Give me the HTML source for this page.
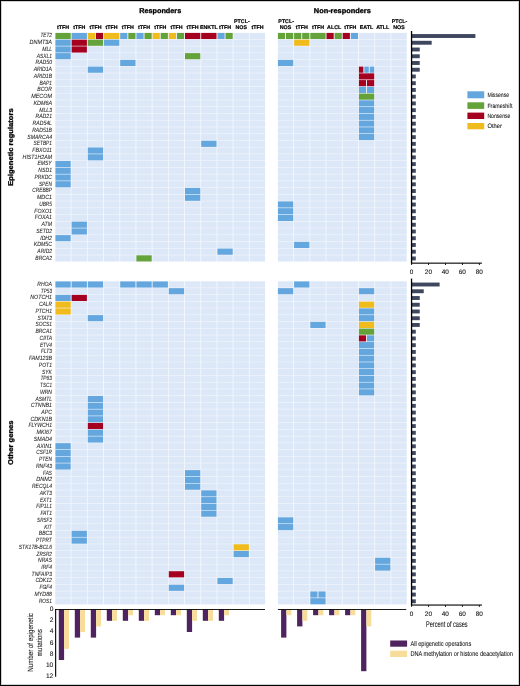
<!DOCTYPE html>
<html><head><meta charset="utf-8"><style>
html,body{margin:0;padding:0;background:#fff;}
body{width:520px;height:686px;overflow:hidden;}
svg{display:block;will-change:transform;}
text{font-family:"Liberation Sans",sans-serif;text-rendering:geometricPrecision;}
.gl{font-size:6.1px;font-style:italic;fill:#222;stroke:#333;stroke-width:0.07px;}
.cl{font-size:5.3px;font-weight:bold;text-anchor:middle;fill:#000;stroke:#000;stroke-width:0.18px;}
.tk{font-size:6.4px;text-anchor:middle;fill:#111;stroke:#222;stroke-width:0.1px;}
.yt{font-size:6.6px;text-anchor:end;fill:#111;stroke:#222;stroke-width:0.1px;}
.ti{font-size:7px;font-weight:bold;fill:#000;stroke:#000;stroke-width:0.3px;}
.lg{font-size:6.3px;fill:#111;stroke:#222;stroke-width:0.08px;}
.lg2{font-size:7px;fill:#111;stroke:#222;stroke-width:0.08px;}
</style></head><body>
<svg width="520" height="686" viewBox="0 0 520 686">
<rect x="0" y="0" width="520" height="686" fill="#fff"/>
<text x="160.2" y="13.0" class="ti" text-anchor="middle" textLength="42" lengthAdjust="spacingAndGlyphs">Responders</text>
<text x="342.3" y="13.0" class="ti" text-anchor="middle" textLength="57" lengthAdjust="spacingAndGlyphs">Non-responders</text>
<text x="63.05" y="29.4" class="cl">tTFH</text>
<text x="79.25" y="29.4" class="cl">tTFH</text>
<text x="95.45" y="29.4" class="cl">tTFH</text>
<text x="111.65" y="29.4" class="cl">tTFH</text>
<text x="127.85" y="29.4" class="cl">tTFH</text>
<text x="144.05" y="29.4" class="cl">tTFH</text>
<text x="160.25" y="29.4" class="cl">tTFH</text>
<text x="176.45" y="29.4" class="cl">tTFH</text>
<text x="192.65" y="29.4" class="cl">tTFH</text>
<text x="208.85" y="29.4" class="cl">ENKTL</text>
<text x="225.05" y="29.4" class="cl">tTFH</text>
<text x="241.85" y="23.0" class="cl">PTCL-</text>
<text x="241.25" y="29.4" class="cl">NOS</text>
<text x="257.45" y="29.4" class="cl">tTFH</text>
<text x="286.15" y="23.0" class="cl">PTCL-</text>
<text x="285.55" y="29.4" class="cl">NOS</text>
<text x="301.75" y="29.4" class="cl">tTFH</text>
<text x="317.95" y="29.4" class="cl">tTFH</text>
<text x="334.15" y="29.4" class="cl">ALCL</text>
<text x="350.35" y="29.4" class="cl">tTFH</text>
<text x="366.55" y="29.4" class="cl">EATL</text>
<text x="382.75" y="29.4" class="cl">ATLL</text>
<text x="399.55" y="23.0" class="cl">PTCL-</text>
<text x="398.95" y="29.4" class="cl">NOS</text>
<text transform="translate(13.1 147.1) rotate(-90)" class="ti" text-anchor="middle" textLength="77.4" lengthAdjust="spacingAndGlyphs">Epigenetic regulators</text>
<text transform="translate(13.1 442.7) rotate(-90)" class="ti" text-anchor="middle" textLength="44.5" lengthAdjust="spacingAndGlyphs">Other genes</text>
<rect x="55.4" y="32.9" width="209.7" height="228.57" fill="#f3f7fd"/>
<rect x="277.9" y="32.9" width="128.7" height="228.57" fill="#f3f7fd"/>
<rect x="55.4" y="281.4" width="209.7" height="322.93" fill="#f3f7fd"/>
<rect x="277.9" y="281.4" width="128.7" height="322.93" fill="#f3f7fd"/>
<rect x="55.4" y="32.9" width="15.3" height="6.15" fill="#64a23a"/>
<rect x="71.6" y="32.9" width="15.3" height="6.15" fill="#64a6de"/>
<rect x="87.8" y="32.9" width="7.2" height="6.15" fill="#f0bb1c"/>
<rect x="95.9" y="32.9" width="7.2" height="6.15" fill="#a5001f"/>
<rect x="104" y="32.9" width="15.3" height="6.15" fill="#f0bb1c"/>
<rect x="120.2" y="32.9" width="7.2" height="6.15" fill="#64a6de"/>
<rect x="128.3" y="32.9" width="7.2" height="6.15" fill="#64a23a"/>
<rect x="136.4" y="32.9" width="7.2" height="6.15" fill="#64a6de"/>
<rect x="144.5" y="32.9" width="7.2" height="6.15" fill="#64a23a"/>
<rect x="152.6" y="32.9" width="7.2" height="6.15" fill="#f0bb1c"/>
<rect x="160.7" y="32.9" width="7.2" height="6.15" fill="#64a23a"/>
<rect x="168.8" y="32.9" width="7.2" height="6.15" fill="#f0bb1c"/>
<rect x="176.9" y="32.9" width="7.2" height="6.15" fill="#64a23a"/>
<rect x="185" y="32.9" width="15.3" height="6.15" fill="#a5001f"/>
<rect x="201.2" y="32.9" width="15.3" height="6.15" fill="#a5001f"/>
<rect x="217.4" y="32.9" width="7.2" height="6.15" fill="#64a6de"/>
<rect x="225.5" y="32.9" width="7.2" height="6.15" fill="#64a23a"/>
<rect x="233.6" y="32.9" width="15.3" height="6.15" fill="#dce7f7"/>
<rect x="249.8" y="32.9" width="15.3" height="6.15" fill="#dce7f7"/>
<rect x="277.9" y="32.9" width="7.2" height="6.15" fill="#64a23a"/>
<rect x="286" y="32.9" width="7.2" height="6.15" fill="#64a23a"/>
<rect x="294.1" y="32.9" width="7.2" height="6.15" fill="#64a23a"/>
<rect x="302.2" y="32.9" width="7.2" height="6.15" fill="#64a23a"/>
<rect x="310.3" y="32.9" width="15.3" height="6.15" fill="#64a23a"/>
<rect x="326.5" y="32.9" width="7.2" height="6.15" fill="#a5001f"/>
<rect x="334.6" y="32.9" width="7.2" height="6.15" fill="#64a23a"/>
<rect x="342.7" y="32.9" width="7.2" height="6.15" fill="#a5001f"/>
<rect x="350.8" y="32.9" width="7.2" height="6.15" fill="#64a6de"/>
<rect x="358.9" y="32.9" width="15.3" height="6.15" fill="#dce7f7"/>
<rect x="375.1" y="32.9" width="15.3" height="6.15" fill="#dce7f7"/>
<rect x="391.3" y="32.9" width="15.3" height="6.15" fill="#dce7f7"/>
<text x="40.4" y="37.42" class="gl" textLength="11.6" lengthAdjust="spacingAndGlyphs">TET2</text>
<rect x="55.4" y="39.64" width="15.3" height="6.15" fill="#64a6de"/>
<rect x="71.6" y="39.64" width="15.3" height="6.15" fill="#a5001f"/>
<rect x="87.8" y="39.64" width="15.3" height="6.15" fill="#64a23a"/>
<rect x="104" y="39.64" width="15.3" height="6.15" fill="#64a6de"/>
<rect x="120.2" y="39.64" width="15.3" height="6.15" fill="#dce7f7"/>
<rect x="136.4" y="39.64" width="15.3" height="6.15" fill="#dce7f7"/>
<rect x="152.6" y="39.64" width="15.3" height="6.15" fill="#dce7f7"/>
<rect x="168.8" y="39.64" width="15.3" height="6.15" fill="#dce7f7"/>
<rect x="185" y="39.64" width="15.3" height="6.15" fill="#dce7f7"/>
<rect x="201.2" y="39.64" width="15.3" height="6.15" fill="#dce7f7"/>
<rect x="217.4" y="39.64" width="15.3" height="6.15" fill="#dce7f7"/>
<rect x="233.6" y="39.64" width="15.3" height="6.15" fill="#dce7f7"/>
<rect x="249.8" y="39.64" width="15.3" height="6.15" fill="#dce7f7"/>
<rect x="277.9" y="39.64" width="15.3" height="6.15" fill="#dce7f7"/>
<rect x="294.1" y="39.64" width="15.3" height="6.15" fill="#f0bb1c"/>
<rect x="310.3" y="39.64" width="15.3" height="6.15" fill="#dce7f7"/>
<rect x="326.5" y="39.64" width="15.3" height="6.15" fill="#dce7f7"/>
<rect x="342.7" y="39.64" width="15.3" height="6.15" fill="#dce7f7"/>
<rect x="358.9" y="39.64" width="15.3" height="6.15" fill="#dce7f7"/>
<rect x="375.1" y="39.64" width="15.3" height="6.15" fill="#dce7f7"/>
<rect x="391.3" y="39.64" width="15.3" height="6.15" fill="#dce7f7"/>
<text x="29.5" y="44.16" class="gl" textLength="22.5" lengthAdjust="spacingAndGlyphs">DNMT3A</text>
<rect x="55.4" y="46.38" width="15.3" height="6.15" fill="#64a6de"/>
<rect x="71.6" y="46.38" width="15.3" height="6.15" fill="#a5001f"/>
<rect x="87.8" y="46.38" width="15.3" height="6.15" fill="#dce7f7"/>
<rect x="104" y="46.38" width="15.3" height="6.15" fill="#dce7f7"/>
<rect x="120.2" y="46.38" width="15.3" height="6.15" fill="#dce7f7"/>
<rect x="136.4" y="46.38" width="15.3" height="6.15" fill="#dce7f7"/>
<rect x="152.6" y="46.38" width="15.3" height="6.15" fill="#dce7f7"/>
<rect x="168.8" y="46.38" width="15.3" height="6.15" fill="#dce7f7"/>
<rect x="185" y="46.38" width="15.3" height="6.15" fill="#dce7f7"/>
<rect x="201.2" y="46.38" width="15.3" height="6.15" fill="#dce7f7"/>
<rect x="217.4" y="46.38" width="15.3" height="6.15" fill="#dce7f7"/>
<rect x="233.6" y="46.38" width="15.3" height="6.15" fill="#dce7f7"/>
<rect x="249.8" y="46.38" width="15.3" height="6.15" fill="#dce7f7"/>
<rect x="277.9" y="46.38" width="15.3" height="6.15" fill="#dce7f7"/>
<rect x="294.1" y="46.38" width="15.3" height="6.15" fill="#dce7f7"/>
<rect x="310.3" y="46.38" width="15.3" height="6.15" fill="#dce7f7"/>
<rect x="326.5" y="46.38" width="15.3" height="6.15" fill="#dce7f7"/>
<rect x="342.7" y="46.38" width="15.3" height="6.15" fill="#dce7f7"/>
<rect x="358.9" y="46.38" width="15.3" height="6.15" fill="#dce7f7"/>
<rect x="375.1" y="46.38" width="15.3" height="6.15" fill="#dce7f7"/>
<rect x="391.3" y="46.38" width="15.3" height="6.15" fill="#dce7f7"/>
<text x="42.2" y="50.9" class="gl" textLength="9.8" lengthAdjust="spacingAndGlyphs">MLL</text>
<rect x="55.4" y="53.12" width="15.3" height="6.15" fill="#64a6de"/>
<rect x="71.6" y="53.12" width="15.3" height="6.15" fill="#dce7f7"/>
<rect x="87.8" y="53.12" width="15.3" height="6.15" fill="#dce7f7"/>
<rect x="104" y="53.12" width="15.3" height="6.15" fill="#dce7f7"/>
<rect x="120.2" y="53.12" width="15.3" height="6.15" fill="#dce7f7"/>
<rect x="136.4" y="53.12" width="15.3" height="6.15" fill="#dce7f7"/>
<rect x="152.6" y="53.12" width="15.3" height="6.15" fill="#dce7f7"/>
<rect x="168.8" y="53.12" width="15.3" height="6.15" fill="#dce7f7"/>
<rect x="185" y="53.12" width="15.3" height="6.15" fill="#64a23a"/>
<rect x="201.2" y="53.12" width="15.3" height="6.15" fill="#dce7f7"/>
<rect x="217.4" y="53.12" width="15.3" height="6.15" fill="#dce7f7"/>
<rect x="233.6" y="53.12" width="15.3" height="6.15" fill="#dce7f7"/>
<rect x="249.8" y="53.12" width="15.3" height="6.15" fill="#dce7f7"/>
<rect x="277.9" y="53.12" width="15.3" height="6.15" fill="#dce7f7"/>
<rect x="294.1" y="53.12" width="15.3" height="6.15" fill="#dce7f7"/>
<rect x="310.3" y="53.12" width="15.3" height="6.15" fill="#dce7f7"/>
<rect x="326.5" y="53.12" width="15.3" height="6.15" fill="#dce7f7"/>
<rect x="342.7" y="53.12" width="15.3" height="6.15" fill="#dce7f7"/>
<rect x="358.9" y="53.12" width="15.3" height="6.15" fill="#dce7f7"/>
<rect x="375.1" y="53.12" width="15.3" height="6.15" fill="#dce7f7"/>
<rect x="391.3" y="53.12" width="15.3" height="6.15" fill="#dce7f7"/>
<text x="36.65" y="57.64" class="gl" textLength="15.35" lengthAdjust="spacingAndGlyphs">ASXL1</text>
<rect x="55.4" y="59.86" width="15.3" height="6.15" fill="#dce7f7"/>
<rect x="71.6" y="59.86" width="15.3" height="6.15" fill="#dce7f7"/>
<rect x="87.8" y="59.86" width="15.3" height="6.15" fill="#dce7f7"/>
<rect x="104" y="59.86" width="15.3" height="6.15" fill="#dce7f7"/>
<rect x="120.2" y="59.86" width="15.3" height="6.15" fill="#64a6de"/>
<rect x="136.4" y="59.86" width="15.3" height="6.15" fill="#dce7f7"/>
<rect x="152.6" y="59.86" width="15.3" height="6.15" fill="#dce7f7"/>
<rect x="168.8" y="59.86" width="15.3" height="6.15" fill="#dce7f7"/>
<rect x="185" y="59.86" width="15.3" height="6.15" fill="#dce7f7"/>
<rect x="201.2" y="59.86" width="15.3" height="6.15" fill="#dce7f7"/>
<rect x="217.4" y="59.86" width="15.3" height="6.15" fill="#dce7f7"/>
<rect x="233.6" y="59.86" width="15.3" height="6.15" fill="#dce7f7"/>
<rect x="249.8" y="59.86" width="15.3" height="6.15" fill="#dce7f7"/>
<rect x="277.9" y="59.86" width="15.3" height="6.15" fill="#64a6de"/>
<rect x="294.1" y="59.86" width="15.3" height="6.15" fill="#dce7f7"/>
<rect x="310.3" y="59.86" width="15.3" height="6.15" fill="#dce7f7"/>
<rect x="326.5" y="59.86" width="15.3" height="6.15" fill="#dce7f7"/>
<rect x="342.7" y="59.86" width="15.3" height="6.15" fill="#dce7f7"/>
<rect x="358.9" y="59.86" width="15.3" height="6.15" fill="#dce7f7"/>
<rect x="375.1" y="59.86" width="15.3" height="6.15" fill="#dce7f7"/>
<rect x="391.3" y="59.86" width="15.3" height="6.15" fill="#dce7f7"/>
<text x="35.5" y="64.38" class="gl" textLength="16.5" lengthAdjust="spacingAndGlyphs">RAD50</text>
<rect x="55.4" y="66.6" width="15.3" height="6.15" fill="#dce7f7"/>
<rect x="71.6" y="66.6" width="15.3" height="6.15" fill="#dce7f7"/>
<rect x="87.8" y="66.6" width="15.3" height="6.15" fill="#64a6de"/>
<rect x="104" y="66.6" width="15.3" height="6.15" fill="#dce7f7"/>
<rect x="120.2" y="66.6" width="15.3" height="6.15" fill="#dce7f7"/>
<rect x="136.4" y="66.6" width="15.3" height="6.15" fill="#dce7f7"/>
<rect x="152.6" y="66.6" width="15.3" height="6.15" fill="#dce7f7"/>
<rect x="168.8" y="66.6" width="15.3" height="6.15" fill="#dce7f7"/>
<rect x="185" y="66.6" width="15.3" height="6.15" fill="#dce7f7"/>
<rect x="201.2" y="66.6" width="15.3" height="6.15" fill="#dce7f7"/>
<rect x="217.4" y="66.6" width="15.3" height="6.15" fill="#dce7f7"/>
<rect x="233.6" y="66.6" width="15.3" height="6.15" fill="#dce7f7"/>
<rect x="249.8" y="66.6" width="15.3" height="6.15" fill="#dce7f7"/>
<rect x="277.9" y="66.6" width="15.3" height="6.15" fill="#dce7f7"/>
<rect x="294.1" y="66.6" width="15.3" height="6.15" fill="#dce7f7"/>
<rect x="310.3" y="66.6" width="15.3" height="6.15" fill="#dce7f7"/>
<rect x="326.5" y="66.6" width="15.3" height="6.15" fill="#dce7f7"/>
<rect x="342.7" y="66.6" width="15.3" height="6.15" fill="#dce7f7"/>
<rect x="358.9" y="66.6" width="4.5" height="6.15" fill="#a5001f"/>
<rect x="364.3" y="66.6" width="4.5" height="6.15" fill="#64a6de"/>
<rect x="369.7" y="66.6" width="4.5" height="6.15" fill="#64a6de"/>
<rect x="375.1" y="66.6" width="15.3" height="6.15" fill="#dce7f7"/>
<rect x="391.3" y="66.6" width="15.3" height="6.15" fill="#dce7f7"/>
<text x="33.65" y="71.12" class="gl" textLength="18.35" lengthAdjust="spacingAndGlyphs">ARID1A</text>
<rect x="55.4" y="73.34" width="15.3" height="6.15" fill="#dce7f7"/>
<rect x="71.6" y="73.34" width="15.3" height="6.15" fill="#dce7f7"/>
<rect x="87.8" y="73.34" width="15.3" height="6.15" fill="#dce7f7"/>
<rect x="104" y="73.34" width="15.3" height="6.15" fill="#dce7f7"/>
<rect x="120.2" y="73.34" width="15.3" height="6.15" fill="#dce7f7"/>
<rect x="136.4" y="73.34" width="15.3" height="6.15" fill="#dce7f7"/>
<rect x="152.6" y="73.34" width="15.3" height="6.15" fill="#dce7f7"/>
<rect x="168.8" y="73.34" width="15.3" height="6.15" fill="#dce7f7"/>
<rect x="185" y="73.34" width="15.3" height="6.15" fill="#dce7f7"/>
<rect x="201.2" y="73.34" width="15.3" height="6.15" fill="#dce7f7"/>
<rect x="217.4" y="73.34" width="15.3" height="6.15" fill="#dce7f7"/>
<rect x="233.6" y="73.34" width="15.3" height="6.15" fill="#dce7f7"/>
<rect x="249.8" y="73.34" width="15.3" height="6.15" fill="#dce7f7"/>
<rect x="277.9" y="73.34" width="15.3" height="6.15" fill="#dce7f7"/>
<rect x="294.1" y="73.34" width="15.3" height="6.15" fill="#dce7f7"/>
<rect x="310.3" y="73.34" width="15.3" height="6.15" fill="#dce7f7"/>
<rect x="326.5" y="73.34" width="15.3" height="6.15" fill="#dce7f7"/>
<rect x="342.7" y="73.34" width="15.3" height="6.15" fill="#dce7f7"/>
<rect x="358.9" y="73.34" width="15.3" height="6.15" fill="#a5001f"/>
<rect x="375.1" y="73.34" width="15.3" height="6.15" fill="#dce7f7"/>
<rect x="391.3" y="73.34" width="15.3" height="6.15" fill="#dce7f7"/>
<text x="33.85" y="77.86" class="gl" textLength="18.15" lengthAdjust="spacingAndGlyphs">ARID1B</text>
<rect x="55.4" y="80.08" width="15.3" height="6.15" fill="#dce7f7"/>
<rect x="71.6" y="80.08" width="15.3" height="6.15" fill="#dce7f7"/>
<rect x="87.8" y="80.08" width="15.3" height="6.15" fill="#dce7f7"/>
<rect x="104" y="80.08" width="15.3" height="6.15" fill="#dce7f7"/>
<rect x="120.2" y="80.08" width="15.3" height="6.15" fill="#dce7f7"/>
<rect x="136.4" y="80.08" width="15.3" height="6.15" fill="#dce7f7"/>
<rect x="152.6" y="80.08" width="15.3" height="6.15" fill="#dce7f7"/>
<rect x="168.8" y="80.08" width="15.3" height="6.15" fill="#dce7f7"/>
<rect x="185" y="80.08" width="15.3" height="6.15" fill="#dce7f7"/>
<rect x="201.2" y="80.08" width="15.3" height="6.15" fill="#dce7f7"/>
<rect x="217.4" y="80.08" width="15.3" height="6.15" fill="#dce7f7"/>
<rect x="233.6" y="80.08" width="15.3" height="6.15" fill="#dce7f7"/>
<rect x="249.8" y="80.08" width="15.3" height="6.15" fill="#dce7f7"/>
<rect x="277.9" y="80.08" width="15.3" height="6.15" fill="#dce7f7"/>
<rect x="294.1" y="80.08" width="15.3" height="6.15" fill="#dce7f7"/>
<rect x="310.3" y="80.08" width="15.3" height="6.15" fill="#dce7f7"/>
<rect x="326.5" y="80.08" width="15.3" height="6.15" fill="#dce7f7"/>
<rect x="342.7" y="80.08" width="15.3" height="6.15" fill="#dce7f7"/>
<rect x="358.9" y="80.08" width="7.2" height="6.15" fill="#a5001f"/>
<rect x="367" y="80.08" width="7.2" height="6.15" fill="#a5001f"/>
<rect x="375.1" y="80.08" width="15.3" height="6.15" fill="#dce7f7"/>
<rect x="391.3" y="80.08" width="15.3" height="6.15" fill="#dce7f7"/>
<text x="39.5" y="84.6" class="gl" textLength="12.5" lengthAdjust="spacingAndGlyphs">BAP1</text>
<rect x="55.4" y="86.82" width="15.3" height="6.15" fill="#dce7f7"/>
<rect x="71.6" y="86.82" width="15.3" height="6.15" fill="#dce7f7"/>
<rect x="87.8" y="86.82" width="15.3" height="6.15" fill="#dce7f7"/>
<rect x="104" y="86.82" width="15.3" height="6.15" fill="#dce7f7"/>
<rect x="120.2" y="86.82" width="15.3" height="6.15" fill="#dce7f7"/>
<rect x="136.4" y="86.82" width="15.3" height="6.15" fill="#dce7f7"/>
<rect x="152.6" y="86.82" width="15.3" height="6.15" fill="#dce7f7"/>
<rect x="168.8" y="86.82" width="15.3" height="6.15" fill="#dce7f7"/>
<rect x="185" y="86.82" width="15.3" height="6.15" fill="#dce7f7"/>
<rect x="201.2" y="86.82" width="15.3" height="6.15" fill="#dce7f7"/>
<rect x="217.4" y="86.82" width="15.3" height="6.15" fill="#dce7f7"/>
<rect x="233.6" y="86.82" width="15.3" height="6.15" fill="#dce7f7"/>
<rect x="249.8" y="86.82" width="15.3" height="6.15" fill="#dce7f7"/>
<rect x="277.9" y="86.82" width="15.3" height="6.15" fill="#dce7f7"/>
<rect x="294.1" y="86.82" width="15.3" height="6.15" fill="#dce7f7"/>
<rect x="310.3" y="86.82" width="15.3" height="6.15" fill="#dce7f7"/>
<rect x="326.5" y="86.82" width="15.3" height="6.15" fill="#dce7f7"/>
<rect x="342.7" y="86.82" width="15.3" height="6.15" fill="#dce7f7"/>
<rect x="358.9" y="86.82" width="7.2" height="6.15" fill="#64a6de"/>
<rect x="367" y="86.82" width="7.2" height="6.15" fill="#64a6de"/>
<rect x="375.1" y="86.82" width="15.3" height="6.15" fill="#dce7f7"/>
<rect x="391.3" y="86.82" width="15.3" height="6.15" fill="#dce7f7"/>
<text x="37.3" y="91.34" class="gl" textLength="14.7" lengthAdjust="spacingAndGlyphs">BCOR</text>
<rect x="55.4" y="93.56" width="15.3" height="6.15" fill="#dce7f7"/>
<rect x="71.6" y="93.56" width="15.3" height="6.15" fill="#dce7f7"/>
<rect x="87.8" y="93.56" width="15.3" height="6.15" fill="#dce7f7"/>
<rect x="104" y="93.56" width="15.3" height="6.15" fill="#dce7f7"/>
<rect x="120.2" y="93.56" width="15.3" height="6.15" fill="#dce7f7"/>
<rect x="136.4" y="93.56" width="15.3" height="6.15" fill="#dce7f7"/>
<rect x="152.6" y="93.56" width="15.3" height="6.15" fill="#dce7f7"/>
<rect x="168.8" y="93.56" width="15.3" height="6.15" fill="#dce7f7"/>
<rect x="185" y="93.56" width="15.3" height="6.15" fill="#dce7f7"/>
<rect x="201.2" y="93.56" width="15.3" height="6.15" fill="#dce7f7"/>
<rect x="217.4" y="93.56" width="15.3" height="6.15" fill="#dce7f7"/>
<rect x="233.6" y="93.56" width="15.3" height="6.15" fill="#dce7f7"/>
<rect x="249.8" y="93.56" width="15.3" height="6.15" fill="#dce7f7"/>
<rect x="277.9" y="93.56" width="15.3" height="6.15" fill="#dce7f7"/>
<rect x="294.1" y="93.56" width="15.3" height="6.15" fill="#dce7f7"/>
<rect x="310.3" y="93.56" width="15.3" height="6.15" fill="#dce7f7"/>
<rect x="326.5" y="93.56" width="15.3" height="6.15" fill="#dce7f7"/>
<rect x="342.7" y="93.56" width="15.3" height="6.15" fill="#dce7f7"/>
<rect x="358.9" y="93.56" width="15.3" height="6.15" fill="#64a23a"/>
<rect x="375.1" y="93.56" width="15.3" height="6.15" fill="#dce7f7"/>
<rect x="391.3" y="93.56" width="15.3" height="6.15" fill="#dce7f7"/>
<text x="31.2" y="98.08" class="gl" textLength="20.79" lengthAdjust="spacingAndGlyphs">MECOM</text>
<rect x="55.4" y="100.3" width="15.3" height="6.15" fill="#dce7f7"/>
<rect x="71.6" y="100.3" width="15.3" height="6.15" fill="#dce7f7"/>
<rect x="87.8" y="100.3" width="15.3" height="6.15" fill="#dce7f7"/>
<rect x="104" y="100.3" width="15.3" height="6.15" fill="#dce7f7"/>
<rect x="120.2" y="100.3" width="15.3" height="6.15" fill="#dce7f7"/>
<rect x="136.4" y="100.3" width="15.3" height="6.15" fill="#dce7f7"/>
<rect x="152.6" y="100.3" width="15.3" height="6.15" fill="#dce7f7"/>
<rect x="168.8" y="100.3" width="15.3" height="6.15" fill="#dce7f7"/>
<rect x="185" y="100.3" width="15.3" height="6.15" fill="#dce7f7"/>
<rect x="201.2" y="100.3" width="15.3" height="6.15" fill="#dce7f7"/>
<rect x="217.4" y="100.3" width="15.3" height="6.15" fill="#dce7f7"/>
<rect x="233.6" y="100.3" width="15.3" height="6.15" fill="#dce7f7"/>
<rect x="249.8" y="100.3" width="15.3" height="6.15" fill="#dce7f7"/>
<rect x="277.9" y="100.3" width="15.3" height="6.15" fill="#dce7f7"/>
<rect x="294.1" y="100.3" width="15.3" height="6.15" fill="#dce7f7"/>
<rect x="310.3" y="100.3" width="15.3" height="6.15" fill="#dce7f7"/>
<rect x="326.5" y="100.3" width="15.3" height="6.15" fill="#dce7f7"/>
<rect x="342.7" y="100.3" width="15.3" height="6.15" fill="#dce7f7"/>
<rect x="358.9" y="100.3" width="15.3" height="6.15" fill="#64a6de"/>
<rect x="375.1" y="100.3" width="15.3" height="6.15" fill="#dce7f7"/>
<rect x="391.3" y="100.3" width="15.3" height="6.15" fill="#dce7f7"/>
<text x="33.4" y="104.82" class="gl" textLength="18.6" lengthAdjust="spacingAndGlyphs">KDM6A</text>
<rect x="55.4" y="107.04" width="15.3" height="6.15" fill="#dce7f7"/>
<rect x="71.6" y="107.04" width="15.3" height="6.15" fill="#dce7f7"/>
<rect x="87.8" y="107.04" width="15.3" height="6.15" fill="#dce7f7"/>
<rect x="104" y="107.04" width="15.3" height="6.15" fill="#dce7f7"/>
<rect x="120.2" y="107.04" width="15.3" height="6.15" fill="#dce7f7"/>
<rect x="136.4" y="107.04" width="15.3" height="6.15" fill="#dce7f7"/>
<rect x="152.6" y="107.04" width="15.3" height="6.15" fill="#dce7f7"/>
<rect x="168.8" y="107.04" width="15.3" height="6.15" fill="#dce7f7"/>
<rect x="185" y="107.04" width="15.3" height="6.15" fill="#dce7f7"/>
<rect x="201.2" y="107.04" width="15.3" height="6.15" fill="#dce7f7"/>
<rect x="217.4" y="107.04" width="15.3" height="6.15" fill="#dce7f7"/>
<rect x="233.6" y="107.04" width="15.3" height="6.15" fill="#dce7f7"/>
<rect x="249.8" y="107.04" width="15.3" height="6.15" fill="#dce7f7"/>
<rect x="277.9" y="107.04" width="15.3" height="6.15" fill="#dce7f7"/>
<rect x="294.1" y="107.04" width="15.3" height="6.15" fill="#dce7f7"/>
<rect x="310.3" y="107.04" width="15.3" height="6.15" fill="#dce7f7"/>
<rect x="326.5" y="107.04" width="15.3" height="6.15" fill="#dce7f7"/>
<rect x="342.7" y="107.04" width="15.3" height="6.15" fill="#dce7f7"/>
<rect x="358.9" y="107.04" width="15.3" height="6.15" fill="#64a6de"/>
<rect x="375.1" y="107.04" width="15.3" height="6.15" fill="#dce7f7"/>
<rect x="391.3" y="107.04" width="15.3" height="6.15" fill="#dce7f7"/>
<text x="39.3" y="111.56" class="gl" textLength="12.7" lengthAdjust="spacingAndGlyphs">MLL3</text>
<rect x="55.4" y="113.78" width="15.3" height="6.15" fill="#dce7f7"/>
<rect x="71.6" y="113.78" width="15.3" height="6.15" fill="#dce7f7"/>
<rect x="87.8" y="113.78" width="15.3" height="6.15" fill="#dce7f7"/>
<rect x="104" y="113.78" width="15.3" height="6.15" fill="#dce7f7"/>
<rect x="120.2" y="113.78" width="15.3" height="6.15" fill="#dce7f7"/>
<rect x="136.4" y="113.78" width="15.3" height="6.15" fill="#dce7f7"/>
<rect x="152.6" y="113.78" width="15.3" height="6.15" fill="#dce7f7"/>
<rect x="168.8" y="113.78" width="15.3" height="6.15" fill="#dce7f7"/>
<rect x="185" y="113.78" width="15.3" height="6.15" fill="#dce7f7"/>
<rect x="201.2" y="113.78" width="15.3" height="6.15" fill="#dce7f7"/>
<rect x="217.4" y="113.78" width="15.3" height="6.15" fill="#dce7f7"/>
<rect x="233.6" y="113.78" width="15.3" height="6.15" fill="#dce7f7"/>
<rect x="249.8" y="113.78" width="15.3" height="6.15" fill="#dce7f7"/>
<rect x="277.9" y="113.78" width="15.3" height="6.15" fill="#dce7f7"/>
<rect x="294.1" y="113.78" width="15.3" height="6.15" fill="#dce7f7"/>
<rect x="310.3" y="113.78" width="15.3" height="6.15" fill="#dce7f7"/>
<rect x="326.5" y="113.78" width="15.3" height="6.15" fill="#dce7f7"/>
<rect x="342.7" y="113.78" width="15.3" height="6.15" fill="#dce7f7"/>
<rect x="358.9" y="113.78" width="15.3" height="6.15" fill="#64a6de"/>
<rect x="375.1" y="113.78" width="15.3" height="6.15" fill="#dce7f7"/>
<rect x="391.3" y="113.78" width="15.3" height="6.15" fill="#dce7f7"/>
<text x="35.5" y="118.3" class="gl" textLength="16.5" lengthAdjust="spacingAndGlyphs">RAD21</text>
<rect x="55.4" y="120.52" width="15.3" height="6.15" fill="#dce7f7"/>
<rect x="71.6" y="120.52" width="15.3" height="6.15" fill="#dce7f7"/>
<rect x="87.8" y="120.52" width="15.3" height="6.15" fill="#dce7f7"/>
<rect x="104" y="120.52" width="15.3" height="6.15" fill="#dce7f7"/>
<rect x="120.2" y="120.52" width="15.3" height="6.15" fill="#dce7f7"/>
<rect x="136.4" y="120.52" width="15.3" height="6.15" fill="#dce7f7"/>
<rect x="152.6" y="120.52" width="15.3" height="6.15" fill="#dce7f7"/>
<rect x="168.8" y="120.52" width="15.3" height="6.15" fill="#dce7f7"/>
<rect x="185" y="120.52" width="15.3" height="6.15" fill="#dce7f7"/>
<rect x="201.2" y="120.52" width="15.3" height="6.15" fill="#dce7f7"/>
<rect x="217.4" y="120.52" width="15.3" height="6.15" fill="#dce7f7"/>
<rect x="233.6" y="120.52" width="15.3" height="6.15" fill="#dce7f7"/>
<rect x="249.8" y="120.52" width="15.3" height="6.15" fill="#dce7f7"/>
<rect x="277.9" y="120.52" width="15.3" height="6.15" fill="#dce7f7"/>
<rect x="294.1" y="120.52" width="15.3" height="6.15" fill="#dce7f7"/>
<rect x="310.3" y="120.52" width="15.3" height="6.15" fill="#dce7f7"/>
<rect x="326.5" y="120.52" width="15.3" height="6.15" fill="#dce7f7"/>
<rect x="342.7" y="120.52" width="15.3" height="6.15" fill="#dce7f7"/>
<rect x="358.9" y="120.52" width="15.3" height="6.15" fill="#64a6de"/>
<rect x="375.1" y="120.52" width="15.3" height="6.15" fill="#dce7f7"/>
<rect x="391.3" y="120.52" width="15.3" height="6.15" fill="#dce7f7"/>
<text x="32.5" y="125.04" class="gl" textLength="19.5" lengthAdjust="spacingAndGlyphs">RAD54L</text>
<rect x="55.4" y="127.26" width="15.3" height="6.15" fill="#dce7f7"/>
<rect x="71.6" y="127.26" width="15.3" height="6.15" fill="#dce7f7"/>
<rect x="87.8" y="127.26" width="15.3" height="6.15" fill="#dce7f7"/>
<rect x="104" y="127.26" width="15.3" height="6.15" fill="#dce7f7"/>
<rect x="120.2" y="127.26" width="15.3" height="6.15" fill="#dce7f7"/>
<rect x="136.4" y="127.26" width="15.3" height="6.15" fill="#dce7f7"/>
<rect x="152.6" y="127.26" width="15.3" height="6.15" fill="#dce7f7"/>
<rect x="168.8" y="127.26" width="15.3" height="6.15" fill="#dce7f7"/>
<rect x="185" y="127.26" width="15.3" height="6.15" fill="#dce7f7"/>
<rect x="201.2" y="127.26" width="15.3" height="6.15" fill="#dce7f7"/>
<rect x="217.4" y="127.26" width="15.3" height="6.15" fill="#dce7f7"/>
<rect x="233.6" y="127.26" width="15.3" height="6.15" fill="#dce7f7"/>
<rect x="249.8" y="127.26" width="15.3" height="6.15" fill="#dce7f7"/>
<rect x="277.9" y="127.26" width="15.3" height="6.15" fill="#dce7f7"/>
<rect x="294.1" y="127.26" width="15.3" height="6.15" fill="#dce7f7"/>
<rect x="310.3" y="127.26" width="15.3" height="6.15" fill="#dce7f7"/>
<rect x="326.5" y="127.26" width="15.3" height="6.15" fill="#dce7f7"/>
<rect x="342.7" y="127.26" width="15.3" height="6.15" fill="#dce7f7"/>
<rect x="358.9" y="127.26" width="15.3" height="6.15" fill="#64a6de"/>
<rect x="375.1" y="127.26" width="15.3" height="6.15" fill="#dce7f7"/>
<rect x="391.3" y="127.26" width="15.3" height="6.15" fill="#dce7f7"/>
<text x="32.2" y="131.78" class="gl" textLength="19.8" lengthAdjust="spacingAndGlyphs">RAD51B</text>
<rect x="55.4" y="134" width="15.3" height="6.15" fill="#dce7f7"/>
<rect x="71.6" y="134" width="15.3" height="6.15" fill="#dce7f7"/>
<rect x="87.8" y="134" width="15.3" height="6.15" fill="#dce7f7"/>
<rect x="104" y="134" width="15.3" height="6.15" fill="#dce7f7"/>
<rect x="120.2" y="134" width="15.3" height="6.15" fill="#dce7f7"/>
<rect x="136.4" y="134" width="15.3" height="6.15" fill="#dce7f7"/>
<rect x="152.6" y="134" width="15.3" height="6.15" fill="#dce7f7"/>
<rect x="168.8" y="134" width="15.3" height="6.15" fill="#dce7f7"/>
<rect x="185" y="134" width="15.3" height="6.15" fill="#dce7f7"/>
<rect x="201.2" y="134" width="15.3" height="6.15" fill="#dce7f7"/>
<rect x="217.4" y="134" width="15.3" height="6.15" fill="#dce7f7"/>
<rect x="233.6" y="134" width="15.3" height="6.15" fill="#dce7f7"/>
<rect x="249.8" y="134" width="15.3" height="6.15" fill="#dce7f7"/>
<rect x="277.9" y="134" width="15.3" height="6.15" fill="#dce7f7"/>
<rect x="294.1" y="134" width="15.3" height="6.15" fill="#dce7f7"/>
<rect x="310.3" y="134" width="15.3" height="6.15" fill="#dce7f7"/>
<rect x="326.5" y="134" width="15.3" height="6.15" fill="#dce7f7"/>
<rect x="342.7" y="134" width="15.3" height="6.15" fill="#dce7f7"/>
<rect x="358.9" y="134" width="15.3" height="6.15" fill="#64a6de"/>
<rect x="375.1" y="134" width="15.3" height="6.15" fill="#dce7f7"/>
<rect x="391.3" y="134" width="15.3" height="6.15" fill="#dce7f7"/>
<text x="27.3" y="138.52" class="gl" textLength="24.7" lengthAdjust="spacingAndGlyphs">SMARCA4</text>
<rect x="55.4" y="140.74" width="15.3" height="6.15" fill="#dce7f7"/>
<rect x="71.6" y="140.74" width="15.3" height="6.15" fill="#dce7f7"/>
<rect x="87.8" y="140.74" width="15.3" height="6.15" fill="#dce7f7"/>
<rect x="104" y="140.74" width="15.3" height="6.15" fill="#dce7f7"/>
<rect x="120.2" y="140.74" width="15.3" height="6.15" fill="#dce7f7"/>
<rect x="136.4" y="140.74" width="15.3" height="6.15" fill="#dce7f7"/>
<rect x="152.6" y="140.74" width="15.3" height="6.15" fill="#dce7f7"/>
<rect x="168.8" y="140.74" width="15.3" height="6.15" fill="#dce7f7"/>
<rect x="185" y="140.74" width="15.3" height="6.15" fill="#dce7f7"/>
<rect x="201.2" y="140.74" width="15.3" height="6.15" fill="#64a6de"/>
<rect x="217.4" y="140.74" width="15.3" height="6.15" fill="#dce7f7"/>
<rect x="233.6" y="140.74" width="15.3" height="6.15" fill="#dce7f7"/>
<rect x="249.8" y="140.74" width="15.3" height="6.15" fill="#dce7f7"/>
<rect x="277.9" y="140.74" width="15.3" height="6.15" fill="#dce7f7"/>
<rect x="294.1" y="140.74" width="15.3" height="6.15" fill="#dce7f7"/>
<rect x="310.3" y="140.74" width="15.3" height="6.15" fill="#dce7f7"/>
<rect x="326.5" y="140.74" width="15.3" height="6.15" fill="#dce7f7"/>
<rect x="342.7" y="140.74" width="15.3" height="6.15" fill="#dce7f7"/>
<rect x="358.9" y="140.74" width="15.3" height="6.15" fill="#dce7f7"/>
<rect x="375.1" y="140.74" width="15.3" height="6.15" fill="#dce7f7"/>
<rect x="391.3" y="140.74" width="15.3" height="6.15" fill="#dce7f7"/>
<text x="33.6" y="145.26" class="gl" textLength="18.4" lengthAdjust="spacingAndGlyphs">SETBP1</text>
<rect x="55.4" y="147.48" width="15.3" height="6.15" fill="#dce7f7"/>
<rect x="71.6" y="147.48" width="15.3" height="6.15" fill="#dce7f7"/>
<rect x="87.8" y="147.48" width="15.3" height="6.15" fill="#64a6de"/>
<rect x="104" y="147.48" width="15.3" height="6.15" fill="#dce7f7"/>
<rect x="120.2" y="147.48" width="15.3" height="6.15" fill="#dce7f7"/>
<rect x="136.4" y="147.48" width="15.3" height="6.15" fill="#dce7f7"/>
<rect x="152.6" y="147.48" width="15.3" height="6.15" fill="#dce7f7"/>
<rect x="168.8" y="147.48" width="15.3" height="6.15" fill="#dce7f7"/>
<rect x="185" y="147.48" width="15.3" height="6.15" fill="#dce7f7"/>
<rect x="201.2" y="147.48" width="15.3" height="6.15" fill="#dce7f7"/>
<rect x="217.4" y="147.48" width="15.3" height="6.15" fill="#dce7f7"/>
<rect x="233.6" y="147.48" width="15.3" height="6.15" fill="#dce7f7"/>
<rect x="249.8" y="147.48" width="15.3" height="6.15" fill="#dce7f7"/>
<rect x="277.9" y="147.48" width="15.3" height="6.15" fill="#dce7f7"/>
<rect x="294.1" y="147.48" width="15.3" height="6.15" fill="#dce7f7"/>
<rect x="310.3" y="147.48" width="15.3" height="6.15" fill="#dce7f7"/>
<rect x="326.5" y="147.48" width="15.3" height="6.15" fill="#dce7f7"/>
<rect x="342.7" y="147.48" width="15.3" height="6.15" fill="#dce7f7"/>
<rect x="358.9" y="147.48" width="15.3" height="6.15" fill="#dce7f7"/>
<rect x="375.1" y="147.48" width="15.3" height="6.15" fill="#dce7f7"/>
<rect x="391.3" y="147.48" width="15.3" height="6.15" fill="#dce7f7"/>
<text x="32.3" y="152" class="gl" textLength="19.7" lengthAdjust="spacingAndGlyphs">FBXO11</text>
<rect x="55.4" y="154.22" width="15.3" height="6.15" fill="#dce7f7"/>
<rect x="71.6" y="154.22" width="15.3" height="6.15" fill="#dce7f7"/>
<rect x="87.8" y="154.22" width="15.3" height="6.15" fill="#64a6de"/>
<rect x="104" y="154.22" width="15.3" height="6.15" fill="#dce7f7"/>
<rect x="120.2" y="154.22" width="15.3" height="6.15" fill="#dce7f7"/>
<rect x="136.4" y="154.22" width="15.3" height="6.15" fill="#dce7f7"/>
<rect x="152.6" y="154.22" width="15.3" height="6.15" fill="#dce7f7"/>
<rect x="168.8" y="154.22" width="15.3" height="6.15" fill="#dce7f7"/>
<rect x="185" y="154.22" width="15.3" height="6.15" fill="#dce7f7"/>
<rect x="201.2" y="154.22" width="15.3" height="6.15" fill="#dce7f7"/>
<rect x="217.4" y="154.22" width="15.3" height="6.15" fill="#dce7f7"/>
<rect x="233.6" y="154.22" width="15.3" height="6.15" fill="#dce7f7"/>
<rect x="249.8" y="154.22" width="15.3" height="6.15" fill="#dce7f7"/>
<rect x="277.9" y="154.22" width="15.3" height="6.15" fill="#dce7f7"/>
<rect x="294.1" y="154.22" width="15.3" height="6.15" fill="#dce7f7"/>
<rect x="310.3" y="154.22" width="15.3" height="6.15" fill="#dce7f7"/>
<rect x="326.5" y="154.22" width="15.3" height="6.15" fill="#dce7f7"/>
<rect x="342.7" y="154.22" width="15.3" height="6.15" fill="#dce7f7"/>
<rect x="358.9" y="154.22" width="15.3" height="6.15" fill="#dce7f7"/>
<rect x="375.1" y="154.22" width="15.3" height="6.15" fill="#dce7f7"/>
<rect x="391.3" y="154.22" width="15.3" height="6.15" fill="#dce7f7"/>
<text x="22.6" y="158.74" class="gl" textLength="29.4" lengthAdjust="spacingAndGlyphs">HIST1H2AM</text>
<rect x="55.4" y="160.96" width="15.3" height="6.15" fill="#64a6de"/>
<rect x="71.6" y="160.96" width="15.3" height="6.15" fill="#dce7f7"/>
<rect x="87.8" y="160.96" width="15.3" height="6.15" fill="#dce7f7"/>
<rect x="104" y="160.96" width="15.3" height="6.15" fill="#dce7f7"/>
<rect x="120.2" y="160.96" width="15.3" height="6.15" fill="#dce7f7"/>
<rect x="136.4" y="160.96" width="15.3" height="6.15" fill="#dce7f7"/>
<rect x="152.6" y="160.96" width="15.3" height="6.15" fill="#dce7f7"/>
<rect x="168.8" y="160.96" width="15.3" height="6.15" fill="#dce7f7"/>
<rect x="185" y="160.96" width="15.3" height="6.15" fill="#dce7f7"/>
<rect x="201.2" y="160.96" width="15.3" height="6.15" fill="#dce7f7"/>
<rect x="217.4" y="160.96" width="15.3" height="6.15" fill="#dce7f7"/>
<rect x="233.6" y="160.96" width="15.3" height="6.15" fill="#dce7f7"/>
<rect x="249.8" y="160.96" width="15.3" height="6.15" fill="#dce7f7"/>
<rect x="277.9" y="160.96" width="15.3" height="6.15" fill="#dce7f7"/>
<rect x="294.1" y="160.96" width="15.3" height="6.15" fill="#dce7f7"/>
<rect x="310.3" y="160.96" width="15.3" height="6.15" fill="#dce7f7"/>
<rect x="326.5" y="160.96" width="15.3" height="6.15" fill="#dce7f7"/>
<rect x="342.7" y="160.96" width="15.3" height="6.15" fill="#dce7f7"/>
<rect x="358.9" y="160.96" width="15.3" height="6.15" fill="#dce7f7"/>
<rect x="375.1" y="160.96" width="15.3" height="6.15" fill="#dce7f7"/>
<rect x="391.3" y="160.96" width="15.3" height="6.15" fill="#dce7f7"/>
<text x="37.4" y="165.48" class="gl" textLength="14.29" lengthAdjust="spacingAndGlyphs">EMSY</text>
<rect x="55.4" y="167.7" width="15.3" height="6.15" fill="#64a6de"/>
<rect x="71.6" y="167.7" width="15.3" height="6.15" fill="#dce7f7"/>
<rect x="87.8" y="167.7" width="15.3" height="6.15" fill="#dce7f7"/>
<rect x="104" y="167.7" width="15.3" height="6.15" fill="#dce7f7"/>
<rect x="120.2" y="167.7" width="15.3" height="6.15" fill="#dce7f7"/>
<rect x="136.4" y="167.7" width="15.3" height="6.15" fill="#dce7f7"/>
<rect x="152.6" y="167.7" width="15.3" height="6.15" fill="#dce7f7"/>
<rect x="168.8" y="167.7" width="15.3" height="6.15" fill="#dce7f7"/>
<rect x="185" y="167.7" width="15.3" height="6.15" fill="#dce7f7"/>
<rect x="201.2" y="167.7" width="15.3" height="6.15" fill="#dce7f7"/>
<rect x="217.4" y="167.7" width="15.3" height="6.15" fill="#dce7f7"/>
<rect x="233.6" y="167.7" width="15.3" height="6.15" fill="#dce7f7"/>
<rect x="249.8" y="167.7" width="15.3" height="6.15" fill="#dce7f7"/>
<rect x="277.9" y="167.7" width="15.3" height="6.15" fill="#dce7f7"/>
<rect x="294.1" y="167.7" width="15.3" height="6.15" fill="#dce7f7"/>
<rect x="310.3" y="167.7" width="15.3" height="6.15" fill="#dce7f7"/>
<rect x="326.5" y="167.7" width="15.3" height="6.15" fill="#dce7f7"/>
<rect x="342.7" y="167.7" width="15.3" height="6.15" fill="#dce7f7"/>
<rect x="358.9" y="167.7" width="15.3" height="6.15" fill="#dce7f7"/>
<rect x="375.1" y="167.7" width="15.3" height="6.15" fill="#dce7f7"/>
<rect x="391.3" y="167.7" width="15.3" height="6.15" fill="#dce7f7"/>
<text x="38.3" y="172.22" class="gl" textLength="13.7" lengthAdjust="spacingAndGlyphs">NSD1</text>
<rect x="55.4" y="174.44" width="15.3" height="6.15" fill="#64a6de"/>
<rect x="71.6" y="174.44" width="15.3" height="6.15" fill="#dce7f7"/>
<rect x="87.8" y="174.44" width="15.3" height="6.15" fill="#dce7f7"/>
<rect x="104" y="174.44" width="15.3" height="6.15" fill="#dce7f7"/>
<rect x="120.2" y="174.44" width="15.3" height="6.15" fill="#dce7f7"/>
<rect x="136.4" y="174.44" width="15.3" height="6.15" fill="#dce7f7"/>
<rect x="152.6" y="174.44" width="15.3" height="6.15" fill="#dce7f7"/>
<rect x="168.8" y="174.44" width="15.3" height="6.15" fill="#dce7f7"/>
<rect x="185" y="174.44" width="15.3" height="6.15" fill="#dce7f7"/>
<rect x="201.2" y="174.44" width="15.3" height="6.15" fill="#dce7f7"/>
<rect x="217.4" y="174.44" width="15.3" height="6.15" fill="#dce7f7"/>
<rect x="233.6" y="174.44" width="15.3" height="6.15" fill="#dce7f7"/>
<rect x="249.8" y="174.44" width="15.3" height="6.15" fill="#dce7f7"/>
<rect x="277.9" y="174.44" width="15.3" height="6.15" fill="#dce7f7"/>
<rect x="294.1" y="174.44" width="15.3" height="6.15" fill="#dce7f7"/>
<rect x="310.3" y="174.44" width="15.3" height="6.15" fill="#dce7f7"/>
<rect x="326.5" y="174.44" width="15.3" height="6.15" fill="#dce7f7"/>
<rect x="342.7" y="174.44" width="15.3" height="6.15" fill="#dce7f7"/>
<rect x="358.9" y="174.44" width="15.3" height="6.15" fill="#dce7f7"/>
<rect x="375.1" y="174.44" width="15.3" height="6.15" fill="#dce7f7"/>
<rect x="391.3" y="174.44" width="15.3" height="6.15" fill="#dce7f7"/>
<text x="34.5" y="178.96" class="gl" textLength="17.47" lengthAdjust="spacingAndGlyphs">PRKDC</text>
<rect x="55.4" y="181.18" width="15.3" height="6.15" fill="#64a6de"/>
<rect x="71.6" y="181.18" width="15.3" height="6.15" fill="#dce7f7"/>
<rect x="87.8" y="181.18" width="15.3" height="6.15" fill="#dce7f7"/>
<rect x="104" y="181.18" width="15.3" height="6.15" fill="#dce7f7"/>
<rect x="120.2" y="181.18" width="15.3" height="6.15" fill="#dce7f7"/>
<rect x="136.4" y="181.18" width="15.3" height="6.15" fill="#dce7f7"/>
<rect x="152.6" y="181.18" width="15.3" height="6.15" fill="#dce7f7"/>
<rect x="168.8" y="181.18" width="15.3" height="6.15" fill="#dce7f7"/>
<rect x="185" y="181.18" width="15.3" height="6.15" fill="#dce7f7"/>
<rect x="201.2" y="181.18" width="15.3" height="6.15" fill="#dce7f7"/>
<rect x="217.4" y="181.18" width="15.3" height="6.15" fill="#dce7f7"/>
<rect x="233.6" y="181.18" width="15.3" height="6.15" fill="#dce7f7"/>
<rect x="249.8" y="181.18" width="15.3" height="6.15" fill="#dce7f7"/>
<rect x="277.9" y="181.18" width="15.3" height="6.15" fill="#dce7f7"/>
<rect x="294.1" y="181.18" width="15.3" height="6.15" fill="#dce7f7"/>
<rect x="310.3" y="181.18" width="15.3" height="6.15" fill="#dce7f7"/>
<rect x="326.5" y="181.18" width="15.3" height="6.15" fill="#dce7f7"/>
<rect x="342.7" y="181.18" width="15.3" height="6.15" fill="#dce7f7"/>
<rect x="358.9" y="181.18" width="15.3" height="6.15" fill="#dce7f7"/>
<rect x="375.1" y="181.18" width="15.3" height="6.15" fill="#dce7f7"/>
<rect x="391.3" y="181.18" width="15.3" height="6.15" fill="#dce7f7"/>
<text x="38.9" y="185.7" class="gl" textLength="13.1" lengthAdjust="spacingAndGlyphs">SPEN</text>
<rect x="55.4" y="187.92" width="15.3" height="6.15" fill="#dce7f7"/>
<rect x="71.6" y="187.92" width="15.3" height="6.15" fill="#dce7f7"/>
<rect x="87.8" y="187.92" width="15.3" height="6.15" fill="#dce7f7"/>
<rect x="104" y="187.92" width="15.3" height="6.15" fill="#dce7f7"/>
<rect x="120.2" y="187.92" width="15.3" height="6.15" fill="#dce7f7"/>
<rect x="136.4" y="187.92" width="15.3" height="6.15" fill="#dce7f7"/>
<rect x="152.6" y="187.92" width="15.3" height="6.15" fill="#dce7f7"/>
<rect x="168.8" y="187.92" width="15.3" height="6.15" fill="#dce7f7"/>
<rect x="185" y="187.92" width="15.3" height="6.15" fill="#64a6de"/>
<rect x="201.2" y="187.92" width="15.3" height="6.15" fill="#dce7f7"/>
<rect x="217.4" y="187.92" width="15.3" height="6.15" fill="#dce7f7"/>
<rect x="233.6" y="187.92" width="15.3" height="6.15" fill="#dce7f7"/>
<rect x="249.8" y="187.92" width="15.3" height="6.15" fill="#dce7f7"/>
<rect x="277.9" y="187.92" width="15.3" height="6.15" fill="#dce7f7"/>
<rect x="294.1" y="187.92" width="15.3" height="6.15" fill="#dce7f7"/>
<rect x="310.3" y="187.92" width="15.3" height="6.15" fill="#dce7f7"/>
<rect x="326.5" y="187.92" width="15.3" height="6.15" fill="#dce7f7"/>
<rect x="342.7" y="187.92" width="15.3" height="6.15" fill="#dce7f7"/>
<rect x="358.9" y="187.92" width="15.3" height="6.15" fill="#dce7f7"/>
<rect x="375.1" y="187.92" width="15.3" height="6.15" fill="#dce7f7"/>
<rect x="391.3" y="187.92" width="15.3" height="6.15" fill="#dce7f7"/>
<text x="32.3" y="192.44" class="gl" textLength="19.7" lengthAdjust="spacingAndGlyphs">CREBBP</text>
<rect x="55.4" y="194.66" width="15.3" height="6.15" fill="#dce7f7"/>
<rect x="71.6" y="194.66" width="15.3" height="6.15" fill="#dce7f7"/>
<rect x="87.8" y="194.66" width="15.3" height="6.15" fill="#dce7f7"/>
<rect x="104" y="194.66" width="15.3" height="6.15" fill="#dce7f7"/>
<rect x="120.2" y="194.66" width="15.3" height="6.15" fill="#dce7f7"/>
<rect x="136.4" y="194.66" width="15.3" height="6.15" fill="#dce7f7"/>
<rect x="152.6" y="194.66" width="15.3" height="6.15" fill="#dce7f7"/>
<rect x="168.8" y="194.66" width="15.3" height="6.15" fill="#dce7f7"/>
<rect x="185" y="194.66" width="15.3" height="6.15" fill="#64a6de"/>
<rect x="201.2" y="194.66" width="15.3" height="6.15" fill="#dce7f7"/>
<rect x="217.4" y="194.66" width="15.3" height="6.15" fill="#dce7f7"/>
<rect x="233.6" y="194.66" width="15.3" height="6.15" fill="#dce7f7"/>
<rect x="249.8" y="194.66" width="15.3" height="6.15" fill="#dce7f7"/>
<rect x="277.9" y="194.66" width="15.3" height="6.15" fill="#dce7f7"/>
<rect x="294.1" y="194.66" width="15.3" height="6.15" fill="#dce7f7"/>
<rect x="310.3" y="194.66" width="15.3" height="6.15" fill="#dce7f7"/>
<rect x="326.5" y="194.66" width="15.3" height="6.15" fill="#dce7f7"/>
<rect x="342.7" y="194.66" width="15.3" height="6.15" fill="#dce7f7"/>
<rect x="358.9" y="194.66" width="15.3" height="6.15" fill="#dce7f7"/>
<rect x="375.1" y="194.66" width="15.3" height="6.15" fill="#dce7f7"/>
<rect x="391.3" y="194.66" width="15.3" height="6.15" fill="#dce7f7"/>
<text x="36.9" y="199.18" class="gl" textLength="15.1" lengthAdjust="spacingAndGlyphs">MDC1</text>
<rect x="55.4" y="201.4" width="15.3" height="6.15" fill="#dce7f7"/>
<rect x="71.6" y="201.4" width="15.3" height="6.15" fill="#dce7f7"/>
<rect x="87.8" y="201.4" width="15.3" height="6.15" fill="#dce7f7"/>
<rect x="104" y="201.4" width="15.3" height="6.15" fill="#dce7f7"/>
<rect x="120.2" y="201.4" width="15.3" height="6.15" fill="#dce7f7"/>
<rect x="136.4" y="201.4" width="15.3" height="6.15" fill="#dce7f7"/>
<rect x="152.6" y="201.4" width="15.3" height="6.15" fill="#dce7f7"/>
<rect x="168.8" y="201.4" width="15.3" height="6.15" fill="#dce7f7"/>
<rect x="185" y="201.4" width="15.3" height="6.15" fill="#dce7f7"/>
<rect x="201.2" y="201.4" width="15.3" height="6.15" fill="#dce7f7"/>
<rect x="217.4" y="201.4" width="15.3" height="6.15" fill="#dce7f7"/>
<rect x="233.6" y="201.4" width="15.3" height="6.15" fill="#dce7f7"/>
<rect x="249.8" y="201.4" width="15.3" height="6.15" fill="#dce7f7"/>
<rect x="277.9" y="201.4" width="15.3" height="6.15" fill="#64a6de"/>
<rect x="294.1" y="201.4" width="15.3" height="6.15" fill="#dce7f7"/>
<rect x="310.3" y="201.4" width="15.3" height="6.15" fill="#dce7f7"/>
<rect x="326.5" y="201.4" width="15.3" height="6.15" fill="#dce7f7"/>
<rect x="342.7" y="201.4" width="15.3" height="6.15" fill="#dce7f7"/>
<rect x="358.9" y="201.4" width="15.3" height="6.15" fill="#dce7f7"/>
<rect x="375.1" y="201.4" width="15.3" height="6.15" fill="#dce7f7"/>
<rect x="391.3" y="201.4" width="15.3" height="6.15" fill="#dce7f7"/>
<text x="39.2" y="205.92" class="gl" textLength="12.79" lengthAdjust="spacingAndGlyphs">UBR5</text>
<rect x="55.4" y="208.14" width="15.3" height="6.15" fill="#dce7f7"/>
<rect x="71.6" y="208.14" width="15.3" height="6.15" fill="#dce7f7"/>
<rect x="87.8" y="208.14" width="15.3" height="6.15" fill="#dce7f7"/>
<rect x="104" y="208.14" width="15.3" height="6.15" fill="#dce7f7"/>
<rect x="120.2" y="208.14" width="15.3" height="6.15" fill="#dce7f7"/>
<rect x="136.4" y="208.14" width="15.3" height="6.15" fill="#dce7f7"/>
<rect x="152.6" y="208.14" width="15.3" height="6.15" fill="#dce7f7"/>
<rect x="168.8" y="208.14" width="15.3" height="6.15" fill="#dce7f7"/>
<rect x="185" y="208.14" width="15.3" height="6.15" fill="#dce7f7"/>
<rect x="201.2" y="208.14" width="15.3" height="6.15" fill="#dce7f7"/>
<rect x="217.4" y="208.14" width="15.3" height="6.15" fill="#dce7f7"/>
<rect x="233.6" y="208.14" width="15.3" height="6.15" fill="#dce7f7"/>
<rect x="249.8" y="208.14" width="15.3" height="6.15" fill="#dce7f7"/>
<rect x="277.9" y="208.14" width="15.3" height="6.15" fill="#64a6de"/>
<rect x="294.1" y="208.14" width="15.3" height="6.15" fill="#dce7f7"/>
<rect x="310.3" y="208.14" width="15.3" height="6.15" fill="#dce7f7"/>
<rect x="326.5" y="208.14" width="15.3" height="6.15" fill="#dce7f7"/>
<rect x="342.7" y="208.14" width="15.3" height="6.15" fill="#dce7f7"/>
<rect x="358.9" y="208.14" width="15.3" height="6.15" fill="#dce7f7"/>
<rect x="375.1" y="208.14" width="15.3" height="6.15" fill="#dce7f7"/>
<rect x="391.3" y="208.14" width="15.3" height="6.15" fill="#dce7f7"/>
<text x="34.2" y="212.66" class="gl" textLength="17.8" lengthAdjust="spacingAndGlyphs">FOXO1</text>
<rect x="55.4" y="214.88" width="15.3" height="6.15" fill="#dce7f7"/>
<rect x="71.6" y="214.88" width="15.3" height="6.15" fill="#dce7f7"/>
<rect x="87.8" y="214.88" width="15.3" height="6.15" fill="#dce7f7"/>
<rect x="104" y="214.88" width="15.3" height="6.15" fill="#dce7f7"/>
<rect x="120.2" y="214.88" width="15.3" height="6.15" fill="#dce7f7"/>
<rect x="136.4" y="214.88" width="15.3" height="6.15" fill="#dce7f7"/>
<rect x="152.6" y="214.88" width="15.3" height="6.15" fill="#dce7f7"/>
<rect x="168.8" y="214.88" width="15.3" height="6.15" fill="#dce7f7"/>
<rect x="185" y="214.88" width="15.3" height="6.15" fill="#dce7f7"/>
<rect x="201.2" y="214.88" width="15.3" height="6.15" fill="#dce7f7"/>
<rect x="217.4" y="214.88" width="15.3" height="6.15" fill="#dce7f7"/>
<rect x="233.6" y="214.88" width="15.3" height="6.15" fill="#dce7f7"/>
<rect x="249.8" y="214.88" width="15.3" height="6.15" fill="#dce7f7"/>
<rect x="277.9" y="214.88" width="15.3" height="6.15" fill="#64a6de"/>
<rect x="294.1" y="214.88" width="15.3" height="6.15" fill="#dce7f7"/>
<rect x="310.3" y="214.88" width="15.3" height="6.15" fill="#dce7f7"/>
<rect x="326.5" y="214.88" width="15.3" height="6.15" fill="#dce7f7"/>
<rect x="342.7" y="214.88" width="15.3" height="6.15" fill="#dce7f7"/>
<rect x="358.9" y="214.88" width="15.3" height="6.15" fill="#dce7f7"/>
<rect x="375.1" y="214.88" width="15.3" height="6.15" fill="#dce7f7"/>
<rect x="391.3" y="214.88" width="15.3" height="6.15" fill="#dce7f7"/>
<text x="34.8" y="219.4" class="gl" textLength="17.2" lengthAdjust="spacingAndGlyphs">FOXA1</text>
<rect x="55.4" y="221.62" width="15.3" height="6.15" fill="#dce7f7"/>
<rect x="71.6" y="221.62" width="15.3" height="6.15" fill="#64a6de"/>
<rect x="87.8" y="221.62" width="15.3" height="6.15" fill="#dce7f7"/>
<rect x="104" y="221.62" width="15.3" height="6.15" fill="#dce7f7"/>
<rect x="120.2" y="221.62" width="15.3" height="6.15" fill="#dce7f7"/>
<rect x="136.4" y="221.62" width="15.3" height="6.15" fill="#dce7f7"/>
<rect x="152.6" y="221.62" width="15.3" height="6.15" fill="#dce7f7"/>
<rect x="168.8" y="221.62" width="15.3" height="6.15" fill="#dce7f7"/>
<rect x="185" y="221.62" width="15.3" height="6.15" fill="#dce7f7"/>
<rect x="201.2" y="221.62" width="15.3" height="6.15" fill="#dce7f7"/>
<rect x="217.4" y="221.62" width="15.3" height="6.15" fill="#dce7f7"/>
<rect x="233.6" y="221.62" width="15.3" height="6.15" fill="#dce7f7"/>
<rect x="249.8" y="221.62" width="15.3" height="6.15" fill="#dce7f7"/>
<rect x="277.9" y="221.62" width="15.3" height="6.15" fill="#dce7f7"/>
<rect x="294.1" y="221.62" width="15.3" height="6.15" fill="#dce7f7"/>
<rect x="310.3" y="221.62" width="15.3" height="6.15" fill="#dce7f7"/>
<rect x="326.5" y="221.62" width="15.3" height="6.15" fill="#dce7f7"/>
<rect x="342.7" y="221.62" width="15.3" height="6.15" fill="#dce7f7"/>
<rect x="358.9" y="221.62" width="15.3" height="6.15" fill="#dce7f7"/>
<rect x="375.1" y="221.62" width="15.3" height="6.15" fill="#dce7f7"/>
<rect x="391.3" y="221.62" width="15.3" height="6.15" fill="#dce7f7"/>
<text x="41.56" y="226.14" class="gl" textLength="10.44" lengthAdjust="spacingAndGlyphs">ATM</text>
<rect x="55.4" y="228.36" width="15.3" height="6.15" fill="#dce7f7"/>
<rect x="71.6" y="228.36" width="15.3" height="6.15" fill="#64a6de"/>
<rect x="87.8" y="228.36" width="15.3" height="6.15" fill="#dce7f7"/>
<rect x="104" y="228.36" width="15.3" height="6.15" fill="#dce7f7"/>
<rect x="120.2" y="228.36" width="15.3" height="6.15" fill="#dce7f7"/>
<rect x="136.4" y="228.36" width="15.3" height="6.15" fill="#dce7f7"/>
<rect x="152.6" y="228.36" width="15.3" height="6.15" fill="#dce7f7"/>
<rect x="168.8" y="228.36" width="15.3" height="6.15" fill="#dce7f7"/>
<rect x="185" y="228.36" width="15.3" height="6.15" fill="#dce7f7"/>
<rect x="201.2" y="228.36" width="15.3" height="6.15" fill="#dce7f7"/>
<rect x="217.4" y="228.36" width="15.3" height="6.15" fill="#dce7f7"/>
<rect x="233.6" y="228.36" width="15.3" height="6.15" fill="#dce7f7"/>
<rect x="249.8" y="228.36" width="15.3" height="6.15" fill="#dce7f7"/>
<rect x="277.9" y="228.36" width="15.3" height="6.15" fill="#dce7f7"/>
<rect x="294.1" y="228.36" width="15.3" height="6.15" fill="#dce7f7"/>
<rect x="310.3" y="228.36" width="15.3" height="6.15" fill="#dce7f7"/>
<rect x="326.5" y="228.36" width="15.3" height="6.15" fill="#dce7f7"/>
<rect x="342.7" y="228.36" width="15.3" height="6.15" fill="#dce7f7"/>
<rect x="358.9" y="228.36" width="15.3" height="6.15" fill="#dce7f7"/>
<rect x="375.1" y="228.36" width="15.3" height="6.15" fill="#dce7f7"/>
<rect x="391.3" y="228.36" width="15.3" height="6.15" fill="#dce7f7"/>
<text x="36.3" y="232.88" class="gl" textLength="15.7" lengthAdjust="spacingAndGlyphs">SETD2</text>
<rect x="55.4" y="235.1" width="15.3" height="6.15" fill="#64a6de"/>
<rect x="71.6" y="235.1" width="15.3" height="6.15" fill="#dce7f7"/>
<rect x="87.8" y="235.1" width="15.3" height="6.15" fill="#dce7f7"/>
<rect x="104" y="235.1" width="15.3" height="6.15" fill="#dce7f7"/>
<rect x="120.2" y="235.1" width="15.3" height="6.15" fill="#dce7f7"/>
<rect x="136.4" y="235.1" width="15.3" height="6.15" fill="#dce7f7"/>
<rect x="152.6" y="235.1" width="15.3" height="6.15" fill="#dce7f7"/>
<rect x="168.8" y="235.1" width="15.3" height="6.15" fill="#dce7f7"/>
<rect x="185" y="235.1" width="15.3" height="6.15" fill="#dce7f7"/>
<rect x="201.2" y="235.1" width="15.3" height="6.15" fill="#dce7f7"/>
<rect x="217.4" y="235.1" width="15.3" height="6.15" fill="#dce7f7"/>
<rect x="233.6" y="235.1" width="15.3" height="6.15" fill="#dce7f7"/>
<rect x="249.8" y="235.1" width="15.3" height="6.15" fill="#dce7f7"/>
<rect x="277.9" y="235.1" width="15.3" height="6.15" fill="#dce7f7"/>
<rect x="294.1" y="235.1" width="15.3" height="6.15" fill="#dce7f7"/>
<rect x="310.3" y="235.1" width="15.3" height="6.15" fill="#dce7f7"/>
<rect x="326.5" y="235.1" width="15.3" height="6.15" fill="#dce7f7"/>
<rect x="342.7" y="235.1" width="15.3" height="6.15" fill="#dce7f7"/>
<rect x="358.9" y="235.1" width="15.3" height="6.15" fill="#dce7f7"/>
<rect x="375.1" y="235.1" width="15.3" height="6.15" fill="#dce7f7"/>
<rect x="391.3" y="235.1" width="15.3" height="6.15" fill="#dce7f7"/>
<text x="40.2" y="239.62" class="gl" textLength="11.8" lengthAdjust="spacingAndGlyphs">IDH2</text>
<rect x="55.4" y="241.84" width="15.3" height="6.15" fill="#dce7f7"/>
<rect x="71.6" y="241.84" width="15.3" height="6.15" fill="#dce7f7"/>
<rect x="87.8" y="241.84" width="15.3" height="6.15" fill="#dce7f7"/>
<rect x="104" y="241.84" width="15.3" height="6.15" fill="#dce7f7"/>
<rect x="120.2" y="241.84" width="15.3" height="6.15" fill="#dce7f7"/>
<rect x="136.4" y="241.84" width="15.3" height="6.15" fill="#dce7f7"/>
<rect x="152.6" y="241.84" width="15.3" height="6.15" fill="#dce7f7"/>
<rect x="168.8" y="241.84" width="15.3" height="6.15" fill="#dce7f7"/>
<rect x="185" y="241.84" width="15.3" height="6.15" fill="#dce7f7"/>
<rect x="201.2" y="241.84" width="15.3" height="6.15" fill="#dce7f7"/>
<rect x="217.4" y="241.84" width="15.3" height="6.15" fill="#dce7f7"/>
<rect x="233.6" y="241.84" width="15.3" height="6.15" fill="#dce7f7"/>
<rect x="249.8" y="241.84" width="15.3" height="6.15" fill="#dce7f7"/>
<rect x="277.9" y="241.84" width="15.3" height="6.15" fill="#dce7f7"/>
<rect x="294.1" y="241.84" width="15.3" height="6.15" fill="#64a6de"/>
<rect x="310.3" y="241.84" width="15.3" height="6.15" fill="#dce7f7"/>
<rect x="326.5" y="241.84" width="15.3" height="6.15" fill="#dce7f7"/>
<rect x="342.7" y="241.84" width="15.3" height="6.15" fill="#dce7f7"/>
<rect x="358.9" y="241.84" width="15.3" height="6.15" fill="#dce7f7"/>
<rect x="375.1" y="241.84" width="15.3" height="6.15" fill="#dce7f7"/>
<rect x="391.3" y="241.84" width="15.3" height="6.15" fill="#dce7f7"/>
<text x="33.7" y="246.36" class="gl" textLength="18.27" lengthAdjust="spacingAndGlyphs">KDM5C</text>
<rect x="55.4" y="248.58" width="15.3" height="6.15" fill="#dce7f7"/>
<rect x="71.6" y="248.58" width="15.3" height="6.15" fill="#dce7f7"/>
<rect x="87.8" y="248.58" width="15.3" height="6.15" fill="#dce7f7"/>
<rect x="104" y="248.58" width="15.3" height="6.15" fill="#dce7f7"/>
<rect x="120.2" y="248.58" width="15.3" height="6.15" fill="#dce7f7"/>
<rect x="136.4" y="248.58" width="15.3" height="6.15" fill="#dce7f7"/>
<rect x="152.6" y="248.58" width="15.3" height="6.15" fill="#dce7f7"/>
<rect x="168.8" y="248.58" width="15.3" height="6.15" fill="#dce7f7"/>
<rect x="185" y="248.58" width="15.3" height="6.15" fill="#dce7f7"/>
<rect x="201.2" y="248.58" width="15.3" height="6.15" fill="#dce7f7"/>
<rect x="217.4" y="248.58" width="15.3" height="6.15" fill="#64a6de"/>
<rect x="233.6" y="248.58" width="15.3" height="6.15" fill="#dce7f7"/>
<rect x="249.8" y="248.58" width="15.3" height="6.15" fill="#dce7f7"/>
<rect x="277.9" y="248.58" width="15.3" height="6.15" fill="#dce7f7"/>
<rect x="294.1" y="248.58" width="15.3" height="6.15" fill="#dce7f7"/>
<rect x="310.3" y="248.58" width="15.3" height="6.15" fill="#dce7f7"/>
<rect x="326.5" y="248.58" width="15.3" height="6.15" fill="#dce7f7"/>
<rect x="342.7" y="248.58" width="15.3" height="6.15" fill="#dce7f7"/>
<rect x="358.9" y="248.58" width="15.3" height="6.15" fill="#dce7f7"/>
<rect x="375.1" y="248.58" width="15.3" height="6.15" fill="#dce7f7"/>
<rect x="391.3" y="248.58" width="15.3" height="6.15" fill="#dce7f7"/>
<text x="37.35" y="253.1" class="gl" textLength="14.65" lengthAdjust="spacingAndGlyphs">ARID2</text>
<rect x="55.4" y="255.32" width="15.3" height="6.15" fill="#dce7f7"/>
<rect x="71.6" y="255.32" width="15.3" height="6.15" fill="#dce7f7"/>
<rect x="87.8" y="255.32" width="15.3" height="6.15" fill="#dce7f7"/>
<rect x="104" y="255.32" width="15.3" height="6.15" fill="#dce7f7"/>
<rect x="120.2" y="255.32" width="15.3" height="6.15" fill="#dce7f7"/>
<rect x="136.4" y="255.32" width="15.3" height="6.15" fill="#64a23a"/>
<rect x="152.6" y="255.32" width="15.3" height="6.15" fill="#dce7f7"/>
<rect x="168.8" y="255.32" width="15.3" height="6.15" fill="#dce7f7"/>
<rect x="185" y="255.32" width="15.3" height="6.15" fill="#dce7f7"/>
<rect x="201.2" y="255.32" width="15.3" height="6.15" fill="#dce7f7"/>
<rect x="217.4" y="255.32" width="15.3" height="6.15" fill="#dce7f7"/>
<rect x="233.6" y="255.32" width="15.3" height="6.15" fill="#dce7f7"/>
<rect x="249.8" y="255.32" width="15.3" height="6.15" fill="#dce7f7"/>
<rect x="277.9" y="255.32" width="15.3" height="6.15" fill="#dce7f7"/>
<rect x="294.1" y="255.32" width="15.3" height="6.15" fill="#dce7f7"/>
<rect x="310.3" y="255.32" width="15.3" height="6.15" fill="#dce7f7"/>
<rect x="326.5" y="255.32" width="15.3" height="6.15" fill="#dce7f7"/>
<rect x="342.7" y="255.32" width="15.3" height="6.15" fill="#dce7f7"/>
<rect x="358.9" y="255.32" width="15.3" height="6.15" fill="#dce7f7"/>
<rect x="375.1" y="255.32" width="15.3" height="6.15" fill="#dce7f7"/>
<rect x="391.3" y="255.32" width="15.3" height="6.15" fill="#dce7f7"/>
<text x="35.3" y="259.84" class="gl" textLength="16.7" lengthAdjust="spacingAndGlyphs">BRCA2</text>
<rect x="55.4" y="281.4" width="15.3" height="6.15" fill="#64a6de"/>
<rect x="71.6" y="281.4" width="15.3" height="6.15" fill="#64a6de"/>
<rect x="87.8" y="281.4" width="15.3" height="6.15" fill="#64a6de"/>
<rect x="104" y="281.4" width="15.3" height="6.15" fill="#dce7f7"/>
<rect x="120.2" y="281.4" width="15.3" height="6.15" fill="#64a6de"/>
<rect x="136.4" y="281.4" width="15.3" height="6.15" fill="#64a6de"/>
<rect x="152.6" y="281.4" width="15.3" height="6.15" fill="#64a6de"/>
<rect x="168.8" y="281.4" width="15.3" height="6.15" fill="#dce7f7"/>
<rect x="185" y="281.4" width="15.3" height="6.15" fill="#dce7f7"/>
<rect x="201.2" y="281.4" width="15.3" height="6.15" fill="#dce7f7"/>
<rect x="217.4" y="281.4" width="15.3" height="6.15" fill="#dce7f7"/>
<rect x="233.6" y="281.4" width="15.3" height="6.15" fill="#dce7f7"/>
<rect x="249.8" y="281.4" width="15.3" height="6.15" fill="#dce7f7"/>
<rect x="277.9" y="281.4" width="15.3" height="6.15" fill="#dce7f7"/>
<rect x="294.1" y="281.4" width="15.3" height="6.15" fill="#64a6de"/>
<rect x="310.3" y="281.4" width="15.3" height="6.15" fill="#dce7f7"/>
<rect x="326.5" y="281.4" width="15.3" height="6.15" fill="#dce7f7"/>
<rect x="342.7" y="281.4" width="15.3" height="6.15" fill="#dce7f7"/>
<rect x="358.9" y="281.4" width="15.3" height="6.15" fill="#dce7f7"/>
<rect x="375.1" y="281.4" width="15.3" height="6.15" fill="#dce7f7"/>
<rect x="391.3" y="281.4" width="15.3" height="6.15" fill="#dce7f7"/>
<text x="37.2" y="285.92" class="gl" textLength="14.8" lengthAdjust="spacingAndGlyphs">RHOA</text>
<rect x="55.4" y="288.14" width="15.3" height="6.15" fill="#dce7f7"/>
<rect x="71.6" y="288.14" width="15.3" height="6.15" fill="#dce7f7"/>
<rect x="87.8" y="288.14" width="15.3" height="6.15" fill="#dce7f7"/>
<rect x="104" y="288.14" width="15.3" height="6.15" fill="#dce7f7"/>
<rect x="120.2" y="288.14" width="15.3" height="6.15" fill="#dce7f7"/>
<rect x="136.4" y="288.14" width="15.3" height="6.15" fill="#dce7f7"/>
<rect x="152.6" y="288.14" width="15.3" height="6.15" fill="#dce7f7"/>
<rect x="168.8" y="288.14" width="15.3" height="6.15" fill="#64a6de"/>
<rect x="185" y="288.14" width="15.3" height="6.15" fill="#dce7f7"/>
<rect x="201.2" y="288.14" width="15.3" height="6.15" fill="#dce7f7"/>
<rect x="217.4" y="288.14" width="15.3" height="6.15" fill="#dce7f7"/>
<rect x="233.6" y="288.14" width="15.3" height="6.15" fill="#dce7f7"/>
<rect x="249.8" y="288.14" width="15.3" height="6.15" fill="#dce7f7"/>
<rect x="277.9" y="288.14" width="15.3" height="6.15" fill="#64a6de"/>
<rect x="294.1" y="288.14" width="15.3" height="6.15" fill="#dce7f7"/>
<rect x="310.3" y="288.14" width="15.3" height="6.15" fill="#dce7f7"/>
<rect x="326.5" y="288.14" width="15.3" height="6.15" fill="#dce7f7"/>
<rect x="342.7" y="288.14" width="15.3" height="6.15" fill="#dce7f7"/>
<rect x="358.9" y="288.14" width="15.3" height="6.15" fill="#64a6de"/>
<rect x="375.1" y="288.14" width="15.3" height="6.15" fill="#dce7f7"/>
<rect x="391.3" y="288.14" width="15.3" height="6.15" fill="#dce7f7"/>
<text x="40.8" y="292.66" class="gl" textLength="11.2" lengthAdjust="spacingAndGlyphs">TP53</text>
<rect x="55.4" y="294.88" width="15.3" height="6.15" fill="#64a6de"/>
<rect x="71.6" y="294.88" width="15.3" height="6.15" fill="#a5001f"/>
<rect x="87.8" y="294.88" width="15.3" height="6.15" fill="#dce7f7"/>
<rect x="104" y="294.88" width="15.3" height="6.15" fill="#dce7f7"/>
<rect x="120.2" y="294.88" width="15.3" height="6.15" fill="#dce7f7"/>
<rect x="136.4" y="294.88" width="15.3" height="6.15" fill="#dce7f7"/>
<rect x="152.6" y="294.88" width="15.3" height="6.15" fill="#dce7f7"/>
<rect x="168.8" y="294.88" width="15.3" height="6.15" fill="#dce7f7"/>
<rect x="185" y="294.88" width="15.3" height="6.15" fill="#dce7f7"/>
<rect x="201.2" y="294.88" width="15.3" height="6.15" fill="#dce7f7"/>
<rect x="217.4" y="294.88" width="15.3" height="6.15" fill="#dce7f7"/>
<rect x="233.6" y="294.88" width="15.3" height="6.15" fill="#dce7f7"/>
<rect x="249.8" y="294.88" width="15.3" height="6.15" fill="#dce7f7"/>
<rect x="277.9" y="294.88" width="15.3" height="6.15" fill="#dce7f7"/>
<rect x="294.1" y="294.88" width="15.3" height="6.15" fill="#dce7f7"/>
<rect x="310.3" y="294.88" width="15.3" height="6.15" fill="#dce7f7"/>
<rect x="326.5" y="294.88" width="15.3" height="6.15" fill="#dce7f7"/>
<rect x="342.7" y="294.88" width="15.3" height="6.15" fill="#dce7f7"/>
<rect x="358.9" y="294.88" width="15.3" height="6.15" fill="#dce7f7"/>
<rect x="375.1" y="294.88" width="15.3" height="6.15" fill="#dce7f7"/>
<rect x="391.3" y="294.88" width="15.3" height="6.15" fill="#dce7f7"/>
<text x="30.2" y="299.4" class="gl" textLength="21.8" lengthAdjust="spacingAndGlyphs">NOTCH1</text>
<rect x="55.4" y="301.62" width="15.3" height="6.15" fill="#f0bb1c"/>
<rect x="71.6" y="301.62" width="15.3" height="6.15" fill="#dce7f7"/>
<rect x="87.8" y="301.62" width="15.3" height="6.15" fill="#dce7f7"/>
<rect x="104" y="301.62" width="15.3" height="6.15" fill="#dce7f7"/>
<rect x="120.2" y="301.62" width="15.3" height="6.15" fill="#dce7f7"/>
<rect x="136.4" y="301.62" width="15.3" height="6.15" fill="#dce7f7"/>
<rect x="152.6" y="301.62" width="15.3" height="6.15" fill="#dce7f7"/>
<rect x="168.8" y="301.62" width="15.3" height="6.15" fill="#dce7f7"/>
<rect x="185" y="301.62" width="15.3" height="6.15" fill="#dce7f7"/>
<rect x="201.2" y="301.62" width="15.3" height="6.15" fill="#dce7f7"/>
<rect x="217.4" y="301.62" width="15.3" height="6.15" fill="#dce7f7"/>
<rect x="233.6" y="301.62" width="15.3" height="6.15" fill="#dce7f7"/>
<rect x="249.8" y="301.62" width="15.3" height="6.15" fill="#dce7f7"/>
<rect x="277.9" y="301.62" width="15.3" height="6.15" fill="#dce7f7"/>
<rect x="294.1" y="301.62" width="15.3" height="6.15" fill="#dce7f7"/>
<rect x="310.3" y="301.62" width="15.3" height="6.15" fill="#dce7f7"/>
<rect x="326.5" y="301.62" width="15.3" height="6.15" fill="#dce7f7"/>
<rect x="342.7" y="301.62" width="15.3" height="6.15" fill="#dce7f7"/>
<rect x="358.9" y="301.62" width="15.3" height="6.15" fill="#f0bb1c"/>
<rect x="375.1" y="301.62" width="15.3" height="6.15" fill="#dce7f7"/>
<rect x="391.3" y="301.62" width="15.3" height="6.15" fill="#dce7f7"/>
<text x="39" y="306.14" class="gl" textLength="13" lengthAdjust="spacingAndGlyphs">CALR</text>
<rect x="55.4" y="308.36" width="15.3" height="6.15" fill="#f0bb1c"/>
<rect x="71.6" y="308.36" width="15.3" height="6.15" fill="#dce7f7"/>
<rect x="87.8" y="308.36" width="15.3" height="6.15" fill="#dce7f7"/>
<rect x="104" y="308.36" width="15.3" height="6.15" fill="#dce7f7"/>
<rect x="120.2" y="308.36" width="15.3" height="6.15" fill="#dce7f7"/>
<rect x="136.4" y="308.36" width="15.3" height="6.15" fill="#dce7f7"/>
<rect x="152.6" y="308.36" width="15.3" height="6.15" fill="#dce7f7"/>
<rect x="168.8" y="308.36" width="15.3" height="6.15" fill="#dce7f7"/>
<rect x="185" y="308.36" width="15.3" height="6.15" fill="#dce7f7"/>
<rect x="201.2" y="308.36" width="15.3" height="6.15" fill="#dce7f7"/>
<rect x="217.4" y="308.36" width="15.3" height="6.15" fill="#dce7f7"/>
<rect x="233.6" y="308.36" width="15.3" height="6.15" fill="#dce7f7"/>
<rect x="249.8" y="308.36" width="15.3" height="6.15" fill="#dce7f7"/>
<rect x="277.9" y="308.36" width="15.3" height="6.15" fill="#dce7f7"/>
<rect x="294.1" y="308.36" width="15.3" height="6.15" fill="#dce7f7"/>
<rect x="310.3" y="308.36" width="15.3" height="6.15" fill="#dce7f7"/>
<rect x="326.5" y="308.36" width="15.3" height="6.15" fill="#dce7f7"/>
<rect x="342.7" y="308.36" width="15.3" height="6.15" fill="#dce7f7"/>
<rect x="358.9" y="308.36" width="15.3" height="6.15" fill="#64a6de"/>
<rect x="375.1" y="308.36" width="15.3" height="6.15" fill="#dce7f7"/>
<rect x="391.3" y="308.36" width="15.3" height="6.15" fill="#dce7f7"/>
<text x="35.4" y="312.88" class="gl" textLength="16.6" lengthAdjust="spacingAndGlyphs">PTCH1</text>
<rect x="55.4" y="315.1" width="15.3" height="6.15" fill="#dce7f7"/>
<rect x="71.6" y="315.1" width="15.3" height="6.15" fill="#dce7f7"/>
<rect x="87.8" y="315.1" width="15.3" height="6.15" fill="#64a6de"/>
<rect x="104" y="315.1" width="15.3" height="6.15" fill="#dce7f7"/>
<rect x="120.2" y="315.1" width="15.3" height="6.15" fill="#dce7f7"/>
<rect x="136.4" y="315.1" width="15.3" height="6.15" fill="#dce7f7"/>
<rect x="152.6" y="315.1" width="15.3" height="6.15" fill="#dce7f7"/>
<rect x="168.8" y="315.1" width="15.3" height="6.15" fill="#dce7f7"/>
<rect x="185" y="315.1" width="15.3" height="6.15" fill="#dce7f7"/>
<rect x="201.2" y="315.1" width="15.3" height="6.15" fill="#dce7f7"/>
<rect x="217.4" y="315.1" width="15.3" height="6.15" fill="#dce7f7"/>
<rect x="233.6" y="315.1" width="15.3" height="6.15" fill="#dce7f7"/>
<rect x="249.8" y="315.1" width="15.3" height="6.15" fill="#dce7f7"/>
<rect x="277.9" y="315.1" width="15.3" height="6.15" fill="#dce7f7"/>
<rect x="294.1" y="315.1" width="15.3" height="6.15" fill="#dce7f7"/>
<rect x="310.3" y="315.1" width="15.3" height="6.15" fill="#dce7f7"/>
<rect x="326.5" y="315.1" width="15.3" height="6.15" fill="#dce7f7"/>
<rect x="342.7" y="315.1" width="15.3" height="6.15" fill="#dce7f7"/>
<rect x="358.9" y="315.1" width="15.3" height="6.15" fill="#64a6de"/>
<rect x="375.1" y="315.1" width="15.3" height="6.15" fill="#dce7f7"/>
<rect x="391.3" y="315.1" width="15.3" height="6.15" fill="#dce7f7"/>
<text x="37.4" y="319.62" class="gl" textLength="14.6" lengthAdjust="spacingAndGlyphs">STAT3</text>
<rect x="55.4" y="321.84" width="15.3" height="6.15" fill="#dce7f7"/>
<rect x="71.6" y="321.84" width="15.3" height="6.15" fill="#dce7f7"/>
<rect x="87.8" y="321.84" width="15.3" height="6.15" fill="#dce7f7"/>
<rect x="104" y="321.84" width="15.3" height="6.15" fill="#dce7f7"/>
<rect x="120.2" y="321.84" width="15.3" height="6.15" fill="#dce7f7"/>
<rect x="136.4" y="321.84" width="15.3" height="6.15" fill="#dce7f7"/>
<rect x="152.6" y="321.84" width="15.3" height="6.15" fill="#dce7f7"/>
<rect x="168.8" y="321.84" width="15.3" height="6.15" fill="#dce7f7"/>
<rect x="185" y="321.84" width="15.3" height="6.15" fill="#dce7f7"/>
<rect x="201.2" y="321.84" width="15.3" height="6.15" fill="#dce7f7"/>
<rect x="217.4" y="321.84" width="15.3" height="6.15" fill="#dce7f7"/>
<rect x="233.6" y="321.84" width="15.3" height="6.15" fill="#dce7f7"/>
<rect x="249.8" y="321.84" width="15.3" height="6.15" fill="#dce7f7"/>
<rect x="277.9" y="321.84" width="15.3" height="6.15" fill="#dce7f7"/>
<rect x="294.1" y="321.84" width="15.3" height="6.15" fill="#dce7f7"/>
<rect x="310.3" y="321.84" width="15.3" height="6.15" fill="#64a6de"/>
<rect x="326.5" y="321.84" width="15.3" height="6.15" fill="#dce7f7"/>
<rect x="342.7" y="321.84" width="15.3" height="6.15" fill="#dce7f7"/>
<rect x="358.9" y="321.84" width="15.3" height="6.15" fill="#f0bb1c"/>
<rect x="375.1" y="321.84" width="15.3" height="6.15" fill="#dce7f7"/>
<rect x="391.3" y="321.84" width="15.3" height="6.15" fill="#dce7f7"/>
<text x="35.4" y="326.36" class="gl" textLength="16.6" lengthAdjust="spacingAndGlyphs">SOCS1</text>
<rect x="55.4" y="328.58" width="15.3" height="6.15" fill="#dce7f7"/>
<rect x="71.6" y="328.58" width="15.3" height="6.15" fill="#dce7f7"/>
<rect x="87.8" y="328.58" width="15.3" height="6.15" fill="#dce7f7"/>
<rect x="104" y="328.58" width="15.3" height="6.15" fill="#dce7f7"/>
<rect x="120.2" y="328.58" width="15.3" height="6.15" fill="#dce7f7"/>
<rect x="136.4" y="328.58" width="15.3" height="6.15" fill="#dce7f7"/>
<rect x="152.6" y="328.58" width="15.3" height="6.15" fill="#dce7f7"/>
<rect x="168.8" y="328.58" width="15.3" height="6.15" fill="#dce7f7"/>
<rect x="185" y="328.58" width="15.3" height="6.15" fill="#dce7f7"/>
<rect x="201.2" y="328.58" width="15.3" height="6.15" fill="#dce7f7"/>
<rect x="217.4" y="328.58" width="15.3" height="6.15" fill="#dce7f7"/>
<rect x="233.6" y="328.58" width="15.3" height="6.15" fill="#dce7f7"/>
<rect x="249.8" y="328.58" width="15.3" height="6.15" fill="#dce7f7"/>
<rect x="277.9" y="328.58" width="15.3" height="6.15" fill="#dce7f7"/>
<rect x="294.1" y="328.58" width="15.3" height="6.15" fill="#dce7f7"/>
<rect x="310.3" y="328.58" width="15.3" height="6.15" fill="#dce7f7"/>
<rect x="326.5" y="328.58" width="15.3" height="6.15" fill="#dce7f7"/>
<rect x="342.7" y="328.58" width="15.3" height="6.15" fill="#dce7f7"/>
<rect x="358.9" y="328.58" width="15.3" height="6.15" fill="#64a23a"/>
<rect x="375.1" y="328.58" width="15.3" height="6.15" fill="#dce7f7"/>
<rect x="391.3" y="328.58" width="15.3" height="6.15" fill="#dce7f7"/>
<text x="35.4" y="333.1" class="gl" textLength="16.6" lengthAdjust="spacingAndGlyphs">BRCA1</text>
<rect x="55.4" y="335.32" width="15.3" height="6.15" fill="#dce7f7"/>
<rect x="71.6" y="335.32" width="15.3" height="6.15" fill="#dce7f7"/>
<rect x="87.8" y="335.32" width="15.3" height="6.15" fill="#dce7f7"/>
<rect x="104" y="335.32" width="15.3" height="6.15" fill="#dce7f7"/>
<rect x="120.2" y="335.32" width="15.3" height="6.15" fill="#dce7f7"/>
<rect x="136.4" y="335.32" width="15.3" height="6.15" fill="#dce7f7"/>
<rect x="152.6" y="335.32" width="15.3" height="6.15" fill="#dce7f7"/>
<rect x="168.8" y="335.32" width="15.3" height="6.15" fill="#dce7f7"/>
<rect x="185" y="335.32" width="15.3" height="6.15" fill="#dce7f7"/>
<rect x="201.2" y="335.32" width="15.3" height="6.15" fill="#dce7f7"/>
<rect x="217.4" y="335.32" width="15.3" height="6.15" fill="#dce7f7"/>
<rect x="233.6" y="335.32" width="15.3" height="6.15" fill="#dce7f7"/>
<rect x="249.8" y="335.32" width="15.3" height="6.15" fill="#dce7f7"/>
<rect x="277.9" y="335.32" width="15.3" height="6.15" fill="#dce7f7"/>
<rect x="294.1" y="335.32" width="15.3" height="6.15" fill="#dce7f7"/>
<rect x="310.3" y="335.32" width="15.3" height="6.15" fill="#dce7f7"/>
<rect x="326.5" y="335.32" width="15.3" height="6.15" fill="#dce7f7"/>
<rect x="342.7" y="335.32" width="15.3" height="6.15" fill="#dce7f7"/>
<rect x="358.9" y="335.32" width="7.2" height="6.15" fill="#a5001f"/>
<rect x="367" y="335.32" width="7.2" height="6.15" fill="#64a6de"/>
<rect x="375.1" y="335.32" width="15.3" height="6.15" fill="#dce7f7"/>
<rect x="391.3" y="335.32" width="15.3" height="6.15" fill="#dce7f7"/>
<text x="39.5" y="339.84" class="gl" textLength="12.5" lengthAdjust="spacingAndGlyphs">CIITA</text>
<rect x="55.4" y="342.06" width="15.3" height="6.15" fill="#dce7f7"/>
<rect x="71.6" y="342.06" width="15.3" height="6.15" fill="#dce7f7"/>
<rect x="87.8" y="342.06" width="15.3" height="6.15" fill="#dce7f7"/>
<rect x="104" y="342.06" width="15.3" height="6.15" fill="#dce7f7"/>
<rect x="120.2" y="342.06" width="15.3" height="6.15" fill="#dce7f7"/>
<rect x="136.4" y="342.06" width="15.3" height="6.15" fill="#dce7f7"/>
<rect x="152.6" y="342.06" width="15.3" height="6.15" fill="#dce7f7"/>
<rect x="168.8" y="342.06" width="15.3" height="6.15" fill="#dce7f7"/>
<rect x="185" y="342.06" width="15.3" height="6.15" fill="#dce7f7"/>
<rect x="201.2" y="342.06" width="15.3" height="6.15" fill="#dce7f7"/>
<rect x="217.4" y="342.06" width="15.3" height="6.15" fill="#dce7f7"/>
<rect x="233.6" y="342.06" width="15.3" height="6.15" fill="#dce7f7"/>
<rect x="249.8" y="342.06" width="15.3" height="6.15" fill="#dce7f7"/>
<rect x="277.9" y="342.06" width="15.3" height="6.15" fill="#dce7f7"/>
<rect x="294.1" y="342.06" width="15.3" height="6.15" fill="#dce7f7"/>
<rect x="310.3" y="342.06" width="15.3" height="6.15" fill="#dce7f7"/>
<rect x="326.5" y="342.06" width="15.3" height="6.15" fill="#dce7f7"/>
<rect x="342.7" y="342.06" width="15.3" height="6.15" fill="#dce7f7"/>
<rect x="358.9" y="342.06" width="15.3" height="6.15" fill="#64a6de"/>
<rect x="375.1" y="342.06" width="15.3" height="6.15" fill="#dce7f7"/>
<rect x="391.3" y="342.06" width="15.3" height="6.15" fill="#dce7f7"/>
<text x="39.9" y="346.58" class="gl" textLength="12.1" lengthAdjust="spacingAndGlyphs">ETV4</text>
<rect x="55.4" y="348.8" width="15.3" height="6.15" fill="#dce7f7"/>
<rect x="71.6" y="348.8" width="15.3" height="6.15" fill="#dce7f7"/>
<rect x="87.8" y="348.8" width="15.3" height="6.15" fill="#dce7f7"/>
<rect x="104" y="348.8" width="15.3" height="6.15" fill="#dce7f7"/>
<rect x="120.2" y="348.8" width="15.3" height="6.15" fill="#dce7f7"/>
<rect x="136.4" y="348.8" width="15.3" height="6.15" fill="#dce7f7"/>
<rect x="152.6" y="348.8" width="15.3" height="6.15" fill="#dce7f7"/>
<rect x="168.8" y="348.8" width="15.3" height="6.15" fill="#dce7f7"/>
<rect x="185" y="348.8" width="15.3" height="6.15" fill="#dce7f7"/>
<rect x="201.2" y="348.8" width="15.3" height="6.15" fill="#dce7f7"/>
<rect x="217.4" y="348.8" width="15.3" height="6.15" fill="#dce7f7"/>
<rect x="233.6" y="348.8" width="15.3" height="6.15" fill="#dce7f7"/>
<rect x="249.8" y="348.8" width="15.3" height="6.15" fill="#dce7f7"/>
<rect x="277.9" y="348.8" width="15.3" height="6.15" fill="#dce7f7"/>
<rect x="294.1" y="348.8" width="15.3" height="6.15" fill="#dce7f7"/>
<rect x="310.3" y="348.8" width="15.3" height="6.15" fill="#dce7f7"/>
<rect x="326.5" y="348.8" width="15.3" height="6.15" fill="#dce7f7"/>
<rect x="342.7" y="348.8" width="15.3" height="6.15" fill="#dce7f7"/>
<rect x="358.9" y="348.8" width="15.3" height="6.15" fill="#64a6de"/>
<rect x="375.1" y="348.8" width="15.3" height="6.15" fill="#dce7f7"/>
<rect x="391.3" y="348.8" width="15.3" height="6.15" fill="#dce7f7"/>
<text x="41" y="353.32" class="gl" textLength="11" lengthAdjust="spacingAndGlyphs">FLT3</text>
<rect x="55.4" y="355.54" width="15.3" height="6.15" fill="#dce7f7"/>
<rect x="71.6" y="355.54" width="15.3" height="6.15" fill="#dce7f7"/>
<rect x="87.8" y="355.54" width="15.3" height="6.15" fill="#dce7f7"/>
<rect x="104" y="355.54" width="15.3" height="6.15" fill="#dce7f7"/>
<rect x="120.2" y="355.54" width="15.3" height="6.15" fill="#dce7f7"/>
<rect x="136.4" y="355.54" width="15.3" height="6.15" fill="#dce7f7"/>
<rect x="152.6" y="355.54" width="15.3" height="6.15" fill="#dce7f7"/>
<rect x="168.8" y="355.54" width="15.3" height="6.15" fill="#dce7f7"/>
<rect x="185" y="355.54" width="15.3" height="6.15" fill="#dce7f7"/>
<rect x="201.2" y="355.54" width="15.3" height="6.15" fill="#dce7f7"/>
<rect x="217.4" y="355.54" width="15.3" height="6.15" fill="#dce7f7"/>
<rect x="233.6" y="355.54" width="15.3" height="6.15" fill="#dce7f7"/>
<rect x="249.8" y="355.54" width="15.3" height="6.15" fill="#dce7f7"/>
<rect x="277.9" y="355.54" width="15.3" height="6.15" fill="#dce7f7"/>
<rect x="294.1" y="355.54" width="15.3" height="6.15" fill="#dce7f7"/>
<rect x="310.3" y="355.54" width="15.3" height="6.15" fill="#dce7f7"/>
<rect x="326.5" y="355.54" width="15.3" height="6.15" fill="#dce7f7"/>
<rect x="342.7" y="355.54" width="15.3" height="6.15" fill="#dce7f7"/>
<rect x="358.9" y="355.54" width="15.3" height="6.15" fill="#64a6de"/>
<rect x="375.1" y="355.54" width="15.3" height="6.15" fill="#dce7f7"/>
<rect x="391.3" y="355.54" width="15.3" height="6.15" fill="#dce7f7"/>
<text x="28.9" y="360.06" class="gl" textLength="23.1" lengthAdjust="spacingAndGlyphs">FAM123B</text>
<rect x="55.4" y="362.28" width="15.3" height="6.15" fill="#dce7f7"/>
<rect x="71.6" y="362.28" width="15.3" height="6.15" fill="#dce7f7"/>
<rect x="87.8" y="362.28" width="15.3" height="6.15" fill="#dce7f7"/>
<rect x="104" y="362.28" width="15.3" height="6.15" fill="#dce7f7"/>
<rect x="120.2" y="362.28" width="15.3" height="6.15" fill="#dce7f7"/>
<rect x="136.4" y="362.28" width="15.3" height="6.15" fill="#dce7f7"/>
<rect x="152.6" y="362.28" width="15.3" height="6.15" fill="#dce7f7"/>
<rect x="168.8" y="362.28" width="15.3" height="6.15" fill="#dce7f7"/>
<rect x="185" y="362.28" width="15.3" height="6.15" fill="#dce7f7"/>
<rect x="201.2" y="362.28" width="15.3" height="6.15" fill="#dce7f7"/>
<rect x="217.4" y="362.28" width="15.3" height="6.15" fill="#dce7f7"/>
<rect x="233.6" y="362.28" width="15.3" height="6.15" fill="#dce7f7"/>
<rect x="249.8" y="362.28" width="15.3" height="6.15" fill="#dce7f7"/>
<rect x="277.9" y="362.28" width="15.3" height="6.15" fill="#dce7f7"/>
<rect x="294.1" y="362.28" width="15.3" height="6.15" fill="#dce7f7"/>
<rect x="310.3" y="362.28" width="15.3" height="6.15" fill="#dce7f7"/>
<rect x="326.5" y="362.28" width="15.3" height="6.15" fill="#dce7f7"/>
<rect x="342.7" y="362.28" width="15.3" height="6.15" fill="#dce7f7"/>
<rect x="358.9" y="362.28" width="15.3" height="6.15" fill="#64a6de"/>
<rect x="375.1" y="362.28" width="15.3" height="6.15" fill="#dce7f7"/>
<rect x="391.3" y="362.28" width="15.3" height="6.15" fill="#dce7f7"/>
<text x="38.8" y="366.8" class="gl" textLength="13.2" lengthAdjust="spacingAndGlyphs">POT1</text>
<rect x="55.4" y="369.02" width="15.3" height="6.15" fill="#dce7f7"/>
<rect x="71.6" y="369.02" width="15.3" height="6.15" fill="#dce7f7"/>
<rect x="87.8" y="369.02" width="15.3" height="6.15" fill="#dce7f7"/>
<rect x="104" y="369.02" width="15.3" height="6.15" fill="#dce7f7"/>
<rect x="120.2" y="369.02" width="15.3" height="6.15" fill="#dce7f7"/>
<rect x="136.4" y="369.02" width="15.3" height="6.15" fill="#dce7f7"/>
<rect x="152.6" y="369.02" width="15.3" height="6.15" fill="#dce7f7"/>
<rect x="168.8" y="369.02" width="15.3" height="6.15" fill="#dce7f7"/>
<rect x="185" y="369.02" width="15.3" height="6.15" fill="#dce7f7"/>
<rect x="201.2" y="369.02" width="15.3" height="6.15" fill="#dce7f7"/>
<rect x="217.4" y="369.02" width="15.3" height="6.15" fill="#dce7f7"/>
<rect x="233.6" y="369.02" width="15.3" height="6.15" fill="#dce7f7"/>
<rect x="249.8" y="369.02" width="15.3" height="6.15" fill="#dce7f7"/>
<rect x="277.9" y="369.02" width="15.3" height="6.15" fill="#dce7f7"/>
<rect x="294.1" y="369.02" width="15.3" height="6.15" fill="#dce7f7"/>
<rect x="310.3" y="369.02" width="15.3" height="6.15" fill="#dce7f7"/>
<rect x="326.5" y="369.02" width="15.3" height="6.15" fill="#dce7f7"/>
<rect x="342.7" y="369.02" width="15.3" height="6.15" fill="#dce7f7"/>
<rect x="358.9" y="369.02" width="15.3" height="6.15" fill="#64a6de"/>
<rect x="375.1" y="369.02" width="15.3" height="6.15" fill="#dce7f7"/>
<rect x="391.3" y="369.02" width="15.3" height="6.15" fill="#dce7f7"/>
<text x="41.9" y="373.54" class="gl" textLength="9.92" lengthAdjust="spacingAndGlyphs">SYK</text>
<rect x="55.4" y="375.76" width="15.3" height="6.15" fill="#dce7f7"/>
<rect x="71.6" y="375.76" width="15.3" height="6.15" fill="#dce7f7"/>
<rect x="87.8" y="375.76" width="15.3" height="6.15" fill="#dce7f7"/>
<rect x="104" y="375.76" width="15.3" height="6.15" fill="#dce7f7"/>
<rect x="120.2" y="375.76" width="15.3" height="6.15" fill="#dce7f7"/>
<rect x="136.4" y="375.76" width="15.3" height="6.15" fill="#dce7f7"/>
<rect x="152.6" y="375.76" width="15.3" height="6.15" fill="#dce7f7"/>
<rect x="168.8" y="375.76" width="15.3" height="6.15" fill="#dce7f7"/>
<rect x="185" y="375.76" width="15.3" height="6.15" fill="#dce7f7"/>
<rect x="201.2" y="375.76" width="15.3" height="6.15" fill="#dce7f7"/>
<rect x="217.4" y="375.76" width="15.3" height="6.15" fill="#dce7f7"/>
<rect x="233.6" y="375.76" width="15.3" height="6.15" fill="#dce7f7"/>
<rect x="249.8" y="375.76" width="15.3" height="6.15" fill="#dce7f7"/>
<rect x="277.9" y="375.76" width="15.3" height="6.15" fill="#dce7f7"/>
<rect x="294.1" y="375.76" width="15.3" height="6.15" fill="#dce7f7"/>
<rect x="310.3" y="375.76" width="15.3" height="6.15" fill="#dce7f7"/>
<rect x="326.5" y="375.76" width="15.3" height="6.15" fill="#dce7f7"/>
<rect x="342.7" y="375.76" width="15.3" height="6.15" fill="#dce7f7"/>
<rect x="358.9" y="375.76" width="15.3" height="6.15" fill="#64a6de"/>
<rect x="375.1" y="375.76" width="15.3" height="6.15" fill="#dce7f7"/>
<rect x="391.3" y="375.76" width="15.3" height="6.15" fill="#dce7f7"/>
<text x="40.4" y="380.28" class="gl" textLength="11.6" lengthAdjust="spacingAndGlyphs">TP63</text>
<rect x="55.4" y="382.5" width="15.3" height="6.15" fill="#dce7f7"/>
<rect x="71.6" y="382.5" width="15.3" height="6.15" fill="#dce7f7"/>
<rect x="87.8" y="382.5" width="15.3" height="6.15" fill="#dce7f7"/>
<rect x="104" y="382.5" width="15.3" height="6.15" fill="#dce7f7"/>
<rect x="120.2" y="382.5" width="15.3" height="6.15" fill="#dce7f7"/>
<rect x="136.4" y="382.5" width="15.3" height="6.15" fill="#dce7f7"/>
<rect x="152.6" y="382.5" width="15.3" height="6.15" fill="#dce7f7"/>
<rect x="168.8" y="382.5" width="15.3" height="6.15" fill="#dce7f7"/>
<rect x="185" y="382.5" width="15.3" height="6.15" fill="#dce7f7"/>
<rect x="201.2" y="382.5" width="15.3" height="6.15" fill="#dce7f7"/>
<rect x="217.4" y="382.5" width="15.3" height="6.15" fill="#dce7f7"/>
<rect x="233.6" y="382.5" width="15.3" height="6.15" fill="#dce7f7"/>
<rect x="249.8" y="382.5" width="15.3" height="6.15" fill="#dce7f7"/>
<rect x="277.9" y="382.5" width="15.3" height="6.15" fill="#dce7f7"/>
<rect x="294.1" y="382.5" width="15.3" height="6.15" fill="#dce7f7"/>
<rect x="310.3" y="382.5" width="15.3" height="6.15" fill="#dce7f7"/>
<rect x="326.5" y="382.5" width="15.3" height="6.15" fill="#dce7f7"/>
<rect x="342.7" y="382.5" width="15.3" height="6.15" fill="#dce7f7"/>
<rect x="358.9" y="382.5" width="15.3" height="6.15" fill="#64a6de"/>
<rect x="375.1" y="382.5" width="15.3" height="6.15" fill="#dce7f7"/>
<rect x="391.3" y="382.5" width="15.3" height="6.15" fill="#dce7f7"/>
<text x="40.1" y="387.02" class="gl" textLength="11.9" lengthAdjust="spacingAndGlyphs">TSC1</text>
<rect x="55.4" y="389.24" width="15.3" height="6.15" fill="#dce7f7"/>
<rect x="71.6" y="389.24" width="15.3" height="6.15" fill="#dce7f7"/>
<rect x="87.8" y="389.24" width="15.3" height="6.15" fill="#dce7f7"/>
<rect x="104" y="389.24" width="15.3" height="6.15" fill="#dce7f7"/>
<rect x="120.2" y="389.24" width="15.3" height="6.15" fill="#dce7f7"/>
<rect x="136.4" y="389.24" width="15.3" height="6.15" fill="#dce7f7"/>
<rect x="152.6" y="389.24" width="15.3" height="6.15" fill="#dce7f7"/>
<rect x="168.8" y="389.24" width="15.3" height="6.15" fill="#dce7f7"/>
<rect x="185" y="389.24" width="15.3" height="6.15" fill="#dce7f7"/>
<rect x="201.2" y="389.24" width="15.3" height="6.15" fill="#dce7f7"/>
<rect x="217.4" y="389.24" width="15.3" height="6.15" fill="#dce7f7"/>
<rect x="233.6" y="389.24" width="15.3" height="6.15" fill="#dce7f7"/>
<rect x="249.8" y="389.24" width="15.3" height="6.15" fill="#dce7f7"/>
<rect x="277.9" y="389.24" width="15.3" height="6.15" fill="#dce7f7"/>
<rect x="294.1" y="389.24" width="15.3" height="6.15" fill="#dce7f7"/>
<rect x="310.3" y="389.24" width="15.3" height="6.15" fill="#dce7f7"/>
<rect x="326.5" y="389.24" width="15.3" height="6.15" fill="#dce7f7"/>
<rect x="342.7" y="389.24" width="15.3" height="6.15" fill="#dce7f7"/>
<rect x="358.9" y="389.24" width="15.3" height="6.15" fill="#64a6de"/>
<rect x="375.1" y="389.24" width="15.3" height="6.15" fill="#dce7f7"/>
<rect x="391.3" y="389.24" width="15.3" height="6.15" fill="#dce7f7"/>
<text x="39.9" y="393.76" class="gl" textLength="12.1" lengthAdjust="spacingAndGlyphs">WRN</text>
<rect x="55.4" y="395.98" width="15.3" height="6.15" fill="#dce7f7"/>
<rect x="71.6" y="395.98" width="15.3" height="6.15" fill="#dce7f7"/>
<rect x="87.8" y="395.98" width="15.3" height="6.15" fill="#64a6de"/>
<rect x="104" y="395.98" width="15.3" height="6.15" fill="#dce7f7"/>
<rect x="120.2" y="395.98" width="15.3" height="6.15" fill="#dce7f7"/>
<rect x="136.4" y="395.98" width="15.3" height="6.15" fill="#dce7f7"/>
<rect x="152.6" y="395.98" width="15.3" height="6.15" fill="#dce7f7"/>
<rect x="168.8" y="395.98" width="15.3" height="6.15" fill="#dce7f7"/>
<rect x="185" y="395.98" width="15.3" height="6.15" fill="#dce7f7"/>
<rect x="201.2" y="395.98" width="15.3" height="6.15" fill="#dce7f7"/>
<rect x="217.4" y="395.98" width="15.3" height="6.15" fill="#dce7f7"/>
<rect x="233.6" y="395.98" width="15.3" height="6.15" fill="#dce7f7"/>
<rect x="249.8" y="395.98" width="15.3" height="6.15" fill="#dce7f7"/>
<rect x="277.9" y="395.98" width="15.3" height="6.15" fill="#dce7f7"/>
<rect x="294.1" y="395.98" width="15.3" height="6.15" fill="#dce7f7"/>
<rect x="310.3" y="395.98" width="15.3" height="6.15" fill="#dce7f7"/>
<rect x="326.5" y="395.98" width="15.3" height="6.15" fill="#dce7f7"/>
<rect x="342.7" y="395.98" width="15.3" height="6.15" fill="#dce7f7"/>
<rect x="358.9" y="395.98" width="15.3" height="6.15" fill="#dce7f7"/>
<rect x="375.1" y="395.98" width="15.3" height="6.15" fill="#dce7f7"/>
<rect x="391.3" y="395.98" width="15.3" height="6.15" fill="#dce7f7"/>
<text x="35.45" y="400.5" class="gl" textLength="16.55" lengthAdjust="spacingAndGlyphs">ASMTL</text>
<rect x="55.4" y="402.72" width="15.3" height="6.15" fill="#dce7f7"/>
<rect x="71.6" y="402.72" width="15.3" height="6.15" fill="#dce7f7"/>
<rect x="87.8" y="402.72" width="15.3" height="6.15" fill="#64a6de"/>
<rect x="104" y="402.72" width="15.3" height="6.15" fill="#dce7f7"/>
<rect x="120.2" y="402.72" width="15.3" height="6.15" fill="#dce7f7"/>
<rect x="136.4" y="402.72" width="15.3" height="6.15" fill="#dce7f7"/>
<rect x="152.6" y="402.72" width="15.3" height="6.15" fill="#dce7f7"/>
<rect x="168.8" y="402.72" width="15.3" height="6.15" fill="#dce7f7"/>
<rect x="185" y="402.72" width="15.3" height="6.15" fill="#dce7f7"/>
<rect x="201.2" y="402.72" width="15.3" height="6.15" fill="#dce7f7"/>
<rect x="217.4" y="402.72" width="15.3" height="6.15" fill="#dce7f7"/>
<rect x="233.6" y="402.72" width="15.3" height="6.15" fill="#dce7f7"/>
<rect x="249.8" y="402.72" width="15.3" height="6.15" fill="#dce7f7"/>
<rect x="277.9" y="402.72" width="15.3" height="6.15" fill="#dce7f7"/>
<rect x="294.1" y="402.72" width="15.3" height="6.15" fill="#dce7f7"/>
<rect x="310.3" y="402.72" width="15.3" height="6.15" fill="#dce7f7"/>
<rect x="326.5" y="402.72" width="15.3" height="6.15" fill="#dce7f7"/>
<rect x="342.7" y="402.72" width="15.3" height="6.15" fill="#dce7f7"/>
<rect x="358.9" y="402.72" width="15.3" height="6.15" fill="#dce7f7"/>
<rect x="375.1" y="402.72" width="15.3" height="6.15" fill="#dce7f7"/>
<rect x="391.3" y="402.72" width="15.3" height="6.15" fill="#dce7f7"/>
<text x="30.7" y="407.24" class="gl" textLength="21.3" lengthAdjust="spacingAndGlyphs">CTNNB1</text>
<rect x="55.4" y="409.46" width="15.3" height="6.15" fill="#dce7f7"/>
<rect x="71.6" y="409.46" width="15.3" height="6.15" fill="#dce7f7"/>
<rect x="87.8" y="409.46" width="15.3" height="6.15" fill="#64a6de"/>
<rect x="104" y="409.46" width="15.3" height="6.15" fill="#dce7f7"/>
<rect x="120.2" y="409.46" width="15.3" height="6.15" fill="#dce7f7"/>
<rect x="136.4" y="409.46" width="15.3" height="6.15" fill="#dce7f7"/>
<rect x="152.6" y="409.46" width="15.3" height="6.15" fill="#dce7f7"/>
<rect x="168.8" y="409.46" width="15.3" height="6.15" fill="#dce7f7"/>
<rect x="185" y="409.46" width="15.3" height="6.15" fill="#dce7f7"/>
<rect x="201.2" y="409.46" width="15.3" height="6.15" fill="#dce7f7"/>
<rect x="217.4" y="409.46" width="15.3" height="6.15" fill="#dce7f7"/>
<rect x="233.6" y="409.46" width="15.3" height="6.15" fill="#dce7f7"/>
<rect x="249.8" y="409.46" width="15.3" height="6.15" fill="#dce7f7"/>
<rect x="277.9" y="409.46" width="15.3" height="6.15" fill="#dce7f7"/>
<rect x="294.1" y="409.46" width="15.3" height="6.15" fill="#dce7f7"/>
<rect x="310.3" y="409.46" width="15.3" height="6.15" fill="#dce7f7"/>
<rect x="326.5" y="409.46" width="15.3" height="6.15" fill="#dce7f7"/>
<rect x="342.7" y="409.46" width="15.3" height="6.15" fill="#dce7f7"/>
<rect x="358.9" y="409.46" width="15.3" height="6.15" fill="#dce7f7"/>
<rect x="375.1" y="409.46" width="15.3" height="6.15" fill="#dce7f7"/>
<rect x="391.3" y="409.46" width="15.3" height="6.15" fill="#dce7f7"/>
<text x="41.26" y="413.98" class="gl" textLength="10.71" lengthAdjust="spacingAndGlyphs">APC</text>
<rect x="55.4" y="416.2" width="15.3" height="6.15" fill="#dce7f7"/>
<rect x="71.6" y="416.2" width="15.3" height="6.15" fill="#dce7f7"/>
<rect x="87.8" y="416.2" width="15.3" height="6.15" fill="#64a6de"/>
<rect x="104" y="416.2" width="15.3" height="6.15" fill="#dce7f7"/>
<rect x="120.2" y="416.2" width="15.3" height="6.15" fill="#dce7f7"/>
<rect x="136.4" y="416.2" width="15.3" height="6.15" fill="#dce7f7"/>
<rect x="152.6" y="416.2" width="15.3" height="6.15" fill="#dce7f7"/>
<rect x="168.8" y="416.2" width="15.3" height="6.15" fill="#dce7f7"/>
<rect x="185" y="416.2" width="15.3" height="6.15" fill="#dce7f7"/>
<rect x="201.2" y="416.2" width="15.3" height="6.15" fill="#dce7f7"/>
<rect x="217.4" y="416.2" width="15.3" height="6.15" fill="#dce7f7"/>
<rect x="233.6" y="416.2" width="15.3" height="6.15" fill="#dce7f7"/>
<rect x="249.8" y="416.2" width="15.3" height="6.15" fill="#dce7f7"/>
<rect x="277.9" y="416.2" width="15.3" height="6.15" fill="#dce7f7"/>
<rect x="294.1" y="416.2" width="15.3" height="6.15" fill="#dce7f7"/>
<rect x="310.3" y="416.2" width="15.3" height="6.15" fill="#dce7f7"/>
<rect x="326.5" y="416.2" width="15.3" height="6.15" fill="#dce7f7"/>
<rect x="342.7" y="416.2" width="15.3" height="6.15" fill="#dce7f7"/>
<rect x="358.9" y="416.2" width="15.3" height="6.15" fill="#dce7f7"/>
<rect x="375.1" y="416.2" width="15.3" height="6.15" fill="#dce7f7"/>
<rect x="391.3" y="416.2" width="15.3" height="6.15" fill="#dce7f7"/>
<text x="30.4" y="420.72" class="gl" textLength="21.6" lengthAdjust="spacingAndGlyphs">CDKN1B</text>
<rect x="55.4" y="422.94" width="15.3" height="6.15" fill="#dce7f7"/>
<rect x="71.6" y="422.94" width="15.3" height="6.15" fill="#dce7f7"/>
<rect x="87.8" y="422.94" width="15.3" height="6.15" fill="#a5001f"/>
<rect x="104" y="422.94" width="15.3" height="6.15" fill="#dce7f7"/>
<rect x="120.2" y="422.94" width="15.3" height="6.15" fill="#dce7f7"/>
<rect x="136.4" y="422.94" width="15.3" height="6.15" fill="#dce7f7"/>
<rect x="152.6" y="422.94" width="15.3" height="6.15" fill="#dce7f7"/>
<rect x="168.8" y="422.94" width="15.3" height="6.15" fill="#dce7f7"/>
<rect x="185" y="422.94" width="15.3" height="6.15" fill="#dce7f7"/>
<rect x="201.2" y="422.94" width="15.3" height="6.15" fill="#dce7f7"/>
<rect x="217.4" y="422.94" width="15.3" height="6.15" fill="#dce7f7"/>
<rect x="233.6" y="422.94" width="15.3" height="6.15" fill="#dce7f7"/>
<rect x="249.8" y="422.94" width="15.3" height="6.15" fill="#dce7f7"/>
<rect x="277.9" y="422.94" width="15.3" height="6.15" fill="#dce7f7"/>
<rect x="294.1" y="422.94" width="15.3" height="6.15" fill="#dce7f7"/>
<rect x="310.3" y="422.94" width="15.3" height="6.15" fill="#dce7f7"/>
<rect x="326.5" y="422.94" width="15.3" height="6.15" fill="#dce7f7"/>
<rect x="342.7" y="422.94" width="15.3" height="6.15" fill="#dce7f7"/>
<rect x="358.9" y="422.94" width="15.3" height="6.15" fill="#dce7f7"/>
<rect x="375.1" y="422.94" width="15.3" height="6.15" fill="#dce7f7"/>
<rect x="391.3" y="422.94" width="15.3" height="6.15" fill="#dce7f7"/>
<text x="28.4" y="427.46" class="gl" textLength="23.6" lengthAdjust="spacingAndGlyphs">FLYWCH1</text>
<rect x="55.4" y="429.68" width="15.3" height="6.15" fill="#dce7f7"/>
<rect x="71.6" y="429.68" width="15.3" height="6.15" fill="#dce7f7"/>
<rect x="87.8" y="429.68" width="15.3" height="6.15" fill="#64a6de"/>
<rect x="104" y="429.68" width="15.3" height="6.15" fill="#dce7f7"/>
<rect x="120.2" y="429.68" width="15.3" height="6.15" fill="#dce7f7"/>
<rect x="136.4" y="429.68" width="15.3" height="6.15" fill="#dce7f7"/>
<rect x="152.6" y="429.68" width="15.3" height="6.15" fill="#dce7f7"/>
<rect x="168.8" y="429.68" width="15.3" height="6.15" fill="#dce7f7"/>
<rect x="185" y="429.68" width="15.3" height="6.15" fill="#dce7f7"/>
<rect x="201.2" y="429.68" width="15.3" height="6.15" fill="#dce7f7"/>
<rect x="217.4" y="429.68" width="15.3" height="6.15" fill="#dce7f7"/>
<rect x="233.6" y="429.68" width="15.3" height="6.15" fill="#dce7f7"/>
<rect x="249.8" y="429.68" width="15.3" height="6.15" fill="#dce7f7"/>
<rect x="277.9" y="429.68" width="15.3" height="6.15" fill="#dce7f7"/>
<rect x="294.1" y="429.68" width="15.3" height="6.15" fill="#dce7f7"/>
<rect x="310.3" y="429.68" width="15.3" height="6.15" fill="#dce7f7"/>
<rect x="326.5" y="429.68" width="15.3" height="6.15" fill="#dce7f7"/>
<rect x="342.7" y="429.68" width="15.3" height="6.15" fill="#dce7f7"/>
<rect x="358.9" y="429.68" width="15.3" height="6.15" fill="#dce7f7"/>
<rect x="375.1" y="429.68" width="15.3" height="6.15" fill="#dce7f7"/>
<rect x="391.3" y="429.68" width="15.3" height="6.15" fill="#dce7f7"/>
<text x="36.5" y="434.2" class="gl" textLength="15.34" lengthAdjust="spacingAndGlyphs">MKI67</text>
<rect x="55.4" y="436.42" width="15.3" height="6.15" fill="#dce7f7"/>
<rect x="71.6" y="436.42" width="15.3" height="6.15" fill="#dce7f7"/>
<rect x="87.8" y="436.42" width="15.3" height="6.15" fill="#64a6de"/>
<rect x="104" y="436.42" width="15.3" height="6.15" fill="#dce7f7"/>
<rect x="120.2" y="436.42" width="15.3" height="6.15" fill="#dce7f7"/>
<rect x="136.4" y="436.42" width="15.3" height="6.15" fill="#dce7f7"/>
<rect x="152.6" y="436.42" width="15.3" height="6.15" fill="#dce7f7"/>
<rect x="168.8" y="436.42" width="15.3" height="6.15" fill="#dce7f7"/>
<rect x="185" y="436.42" width="15.3" height="6.15" fill="#dce7f7"/>
<rect x="201.2" y="436.42" width="15.3" height="6.15" fill="#dce7f7"/>
<rect x="217.4" y="436.42" width="15.3" height="6.15" fill="#dce7f7"/>
<rect x="233.6" y="436.42" width="15.3" height="6.15" fill="#dce7f7"/>
<rect x="249.8" y="436.42" width="15.3" height="6.15" fill="#dce7f7"/>
<rect x="277.9" y="436.42" width="15.3" height="6.15" fill="#dce7f7"/>
<rect x="294.1" y="436.42" width="15.3" height="6.15" fill="#dce7f7"/>
<rect x="310.3" y="436.42" width="15.3" height="6.15" fill="#dce7f7"/>
<rect x="326.5" y="436.42" width="15.3" height="6.15" fill="#dce7f7"/>
<rect x="342.7" y="436.42" width="15.3" height="6.15" fill="#dce7f7"/>
<rect x="358.9" y="436.42" width="15.3" height="6.15" fill="#dce7f7"/>
<rect x="375.1" y="436.42" width="15.3" height="6.15" fill="#dce7f7"/>
<rect x="391.3" y="436.42" width="15.3" height="6.15" fill="#dce7f7"/>
<text x="33.8" y="440.94" class="gl" textLength="18.2" lengthAdjust="spacingAndGlyphs">SMAD4</text>
<rect x="55.4" y="443.16" width="15.3" height="6.15" fill="#64a6de"/>
<rect x="71.6" y="443.16" width="15.3" height="6.15" fill="#dce7f7"/>
<rect x="87.8" y="443.16" width="15.3" height="6.15" fill="#dce7f7"/>
<rect x="104" y="443.16" width="15.3" height="6.15" fill="#dce7f7"/>
<rect x="120.2" y="443.16" width="15.3" height="6.15" fill="#dce7f7"/>
<rect x="136.4" y="443.16" width="15.3" height="6.15" fill="#dce7f7"/>
<rect x="152.6" y="443.16" width="15.3" height="6.15" fill="#dce7f7"/>
<rect x="168.8" y="443.16" width="15.3" height="6.15" fill="#dce7f7"/>
<rect x="185" y="443.16" width="15.3" height="6.15" fill="#dce7f7"/>
<rect x="201.2" y="443.16" width="15.3" height="6.15" fill="#dce7f7"/>
<rect x="217.4" y="443.16" width="15.3" height="6.15" fill="#dce7f7"/>
<rect x="233.6" y="443.16" width="15.3" height="6.15" fill="#dce7f7"/>
<rect x="249.8" y="443.16" width="15.3" height="6.15" fill="#dce7f7"/>
<rect x="277.9" y="443.16" width="15.3" height="6.15" fill="#dce7f7"/>
<rect x="294.1" y="443.16" width="15.3" height="6.15" fill="#dce7f7"/>
<rect x="310.3" y="443.16" width="15.3" height="6.15" fill="#dce7f7"/>
<rect x="326.5" y="443.16" width="15.3" height="6.15" fill="#dce7f7"/>
<rect x="342.7" y="443.16" width="15.3" height="6.15" fill="#dce7f7"/>
<rect x="358.9" y="443.16" width="15.3" height="6.15" fill="#dce7f7"/>
<rect x="375.1" y="443.16" width="15.3" height="6.15" fill="#dce7f7"/>
<rect x="391.3" y="443.16" width="15.3" height="6.15" fill="#dce7f7"/>
<text x="36.76" y="447.68" class="gl" textLength="15.24" lengthAdjust="spacingAndGlyphs">AXIN1</text>
<rect x="55.4" y="449.9" width="15.3" height="6.15" fill="#64a6de"/>
<rect x="71.6" y="449.9" width="15.3" height="6.15" fill="#dce7f7"/>
<rect x="87.8" y="449.9" width="15.3" height="6.15" fill="#dce7f7"/>
<rect x="104" y="449.9" width="15.3" height="6.15" fill="#dce7f7"/>
<rect x="120.2" y="449.9" width="15.3" height="6.15" fill="#dce7f7"/>
<rect x="136.4" y="449.9" width="15.3" height="6.15" fill="#dce7f7"/>
<rect x="152.6" y="449.9" width="15.3" height="6.15" fill="#dce7f7"/>
<rect x="168.8" y="449.9" width="15.3" height="6.15" fill="#dce7f7"/>
<rect x="185" y="449.9" width="15.3" height="6.15" fill="#dce7f7"/>
<rect x="201.2" y="449.9" width="15.3" height="6.15" fill="#dce7f7"/>
<rect x="217.4" y="449.9" width="15.3" height="6.15" fill="#dce7f7"/>
<rect x="233.6" y="449.9" width="15.3" height="6.15" fill="#dce7f7"/>
<rect x="249.8" y="449.9" width="15.3" height="6.15" fill="#dce7f7"/>
<rect x="277.9" y="449.9" width="15.3" height="6.15" fill="#dce7f7"/>
<rect x="294.1" y="449.9" width="15.3" height="6.15" fill="#dce7f7"/>
<rect x="310.3" y="449.9" width="15.3" height="6.15" fill="#dce7f7"/>
<rect x="326.5" y="449.9" width="15.3" height="6.15" fill="#dce7f7"/>
<rect x="342.7" y="449.9" width="15.3" height="6.15" fill="#dce7f7"/>
<rect x="358.9" y="449.9" width="15.3" height="6.15" fill="#dce7f7"/>
<rect x="375.1" y="449.9" width="15.3" height="6.15" fill="#dce7f7"/>
<rect x="391.3" y="449.9" width="15.3" height="6.15" fill="#dce7f7"/>
<text x="36.3" y="454.42" class="gl" textLength="15.7" lengthAdjust="spacingAndGlyphs">CSF1R</text>
<rect x="55.4" y="456.64" width="15.3" height="6.15" fill="#64a6de"/>
<rect x="71.6" y="456.64" width="15.3" height="6.15" fill="#dce7f7"/>
<rect x="87.8" y="456.64" width="15.3" height="6.15" fill="#dce7f7"/>
<rect x="104" y="456.64" width="15.3" height="6.15" fill="#dce7f7"/>
<rect x="120.2" y="456.64" width="15.3" height="6.15" fill="#dce7f7"/>
<rect x="136.4" y="456.64" width="15.3" height="6.15" fill="#dce7f7"/>
<rect x="152.6" y="456.64" width="15.3" height="6.15" fill="#dce7f7"/>
<rect x="168.8" y="456.64" width="15.3" height="6.15" fill="#dce7f7"/>
<rect x="185" y="456.64" width="15.3" height="6.15" fill="#dce7f7"/>
<rect x="201.2" y="456.64" width="15.3" height="6.15" fill="#dce7f7"/>
<rect x="217.4" y="456.64" width="15.3" height="6.15" fill="#dce7f7"/>
<rect x="233.6" y="456.64" width="15.3" height="6.15" fill="#dce7f7"/>
<rect x="249.8" y="456.64" width="15.3" height="6.15" fill="#dce7f7"/>
<rect x="277.9" y="456.64" width="15.3" height="6.15" fill="#dce7f7"/>
<rect x="294.1" y="456.64" width="15.3" height="6.15" fill="#dce7f7"/>
<rect x="310.3" y="456.64" width="15.3" height="6.15" fill="#dce7f7"/>
<rect x="326.5" y="456.64" width="15.3" height="6.15" fill="#dce7f7"/>
<rect x="342.7" y="456.64" width="15.3" height="6.15" fill="#dce7f7"/>
<rect x="358.9" y="456.64" width="15.3" height="6.15" fill="#dce7f7"/>
<rect x="375.1" y="456.64" width="15.3" height="6.15" fill="#dce7f7"/>
<rect x="391.3" y="456.64" width="15.3" height="6.15" fill="#dce7f7"/>
<text x="39" y="461.16" class="gl" textLength="13" lengthAdjust="spacingAndGlyphs">PTEN</text>
<rect x="55.4" y="463.38" width="15.3" height="6.15" fill="#64a6de"/>
<rect x="71.6" y="463.38" width="15.3" height="6.15" fill="#dce7f7"/>
<rect x="87.8" y="463.38" width="15.3" height="6.15" fill="#dce7f7"/>
<rect x="104" y="463.38" width="15.3" height="6.15" fill="#dce7f7"/>
<rect x="120.2" y="463.38" width="15.3" height="6.15" fill="#dce7f7"/>
<rect x="136.4" y="463.38" width="15.3" height="6.15" fill="#dce7f7"/>
<rect x="152.6" y="463.38" width="15.3" height="6.15" fill="#dce7f7"/>
<rect x="168.8" y="463.38" width="15.3" height="6.15" fill="#dce7f7"/>
<rect x="185" y="463.38" width="15.3" height="6.15" fill="#dce7f7"/>
<rect x="201.2" y="463.38" width="15.3" height="6.15" fill="#dce7f7"/>
<rect x="217.4" y="463.38" width="15.3" height="6.15" fill="#dce7f7"/>
<rect x="233.6" y="463.38" width="15.3" height="6.15" fill="#dce7f7"/>
<rect x="249.8" y="463.38" width="15.3" height="6.15" fill="#dce7f7"/>
<rect x="277.9" y="463.38" width="15.3" height="6.15" fill="#dce7f7"/>
<rect x="294.1" y="463.38" width="15.3" height="6.15" fill="#dce7f7"/>
<rect x="310.3" y="463.38" width="15.3" height="6.15" fill="#dce7f7"/>
<rect x="326.5" y="463.38" width="15.3" height="6.15" fill="#dce7f7"/>
<rect x="342.7" y="463.38" width="15.3" height="6.15" fill="#dce7f7"/>
<rect x="358.9" y="463.38" width="15.3" height="6.15" fill="#dce7f7"/>
<rect x="375.1" y="463.38" width="15.3" height="6.15" fill="#dce7f7"/>
<rect x="391.3" y="463.38" width="15.3" height="6.15" fill="#dce7f7"/>
<text x="35.9" y="467.9" class="gl" textLength="16.1" lengthAdjust="spacingAndGlyphs">RNF43</text>
<rect x="55.4" y="470.12" width="15.3" height="6.15" fill="#dce7f7"/>
<rect x="71.6" y="470.12" width="15.3" height="6.15" fill="#dce7f7"/>
<rect x="87.8" y="470.12" width="15.3" height="6.15" fill="#dce7f7"/>
<rect x="104" y="470.12" width="15.3" height="6.15" fill="#dce7f7"/>
<rect x="120.2" y="470.12" width="15.3" height="6.15" fill="#dce7f7"/>
<rect x="136.4" y="470.12" width="15.3" height="6.15" fill="#dce7f7"/>
<rect x="152.6" y="470.12" width="15.3" height="6.15" fill="#dce7f7"/>
<rect x="168.8" y="470.12" width="15.3" height="6.15" fill="#dce7f7"/>
<rect x="185" y="470.12" width="15.3" height="6.15" fill="#64a6de"/>
<rect x="201.2" y="470.12" width="15.3" height="6.15" fill="#dce7f7"/>
<rect x="217.4" y="470.12" width="15.3" height="6.15" fill="#dce7f7"/>
<rect x="233.6" y="470.12" width="15.3" height="6.15" fill="#dce7f7"/>
<rect x="249.8" y="470.12" width="15.3" height="6.15" fill="#dce7f7"/>
<rect x="277.9" y="470.12" width="15.3" height="6.15" fill="#dce7f7"/>
<rect x="294.1" y="470.12" width="15.3" height="6.15" fill="#dce7f7"/>
<rect x="310.3" y="470.12" width="15.3" height="6.15" fill="#dce7f7"/>
<rect x="326.5" y="470.12" width="15.3" height="6.15" fill="#dce7f7"/>
<rect x="342.7" y="470.12" width="15.3" height="6.15" fill="#dce7f7"/>
<rect x="358.9" y="470.12" width="15.3" height="6.15" fill="#dce7f7"/>
<rect x="375.1" y="470.12" width="15.3" height="6.15" fill="#dce7f7"/>
<rect x="391.3" y="470.12" width="15.3" height="6.15" fill="#dce7f7"/>
<text x="43.1" y="474.64" class="gl" textLength="8.9" lengthAdjust="spacingAndGlyphs">FAS</text>
<rect x="55.4" y="476.86" width="15.3" height="6.15" fill="#dce7f7"/>
<rect x="71.6" y="476.86" width="15.3" height="6.15" fill="#dce7f7"/>
<rect x="87.8" y="476.86" width="15.3" height="6.15" fill="#dce7f7"/>
<rect x="104" y="476.86" width="15.3" height="6.15" fill="#dce7f7"/>
<rect x="120.2" y="476.86" width="15.3" height="6.15" fill="#dce7f7"/>
<rect x="136.4" y="476.86" width="15.3" height="6.15" fill="#dce7f7"/>
<rect x="152.6" y="476.86" width="15.3" height="6.15" fill="#dce7f7"/>
<rect x="168.8" y="476.86" width="15.3" height="6.15" fill="#dce7f7"/>
<rect x="185" y="476.86" width="15.3" height="6.15" fill="#64a6de"/>
<rect x="201.2" y="476.86" width="15.3" height="6.15" fill="#dce7f7"/>
<rect x="217.4" y="476.86" width="15.3" height="6.15" fill="#dce7f7"/>
<rect x="233.6" y="476.86" width="15.3" height="6.15" fill="#dce7f7"/>
<rect x="249.8" y="476.86" width="15.3" height="6.15" fill="#dce7f7"/>
<rect x="277.9" y="476.86" width="15.3" height="6.15" fill="#dce7f7"/>
<rect x="294.1" y="476.86" width="15.3" height="6.15" fill="#dce7f7"/>
<rect x="310.3" y="476.86" width="15.3" height="6.15" fill="#dce7f7"/>
<rect x="326.5" y="476.86" width="15.3" height="6.15" fill="#dce7f7"/>
<rect x="342.7" y="476.86" width="15.3" height="6.15" fill="#dce7f7"/>
<rect x="358.9" y="476.86" width="15.3" height="6.15" fill="#dce7f7"/>
<rect x="375.1" y="476.86" width="15.3" height="6.15" fill="#dce7f7"/>
<rect x="391.3" y="476.86" width="15.3" height="6.15" fill="#dce7f7"/>
<text x="36.3" y="481.38" class="gl" textLength="15.7" lengthAdjust="spacingAndGlyphs">DNM2</text>
<rect x="55.4" y="483.6" width="15.3" height="6.15" fill="#dce7f7"/>
<rect x="71.6" y="483.6" width="15.3" height="6.15" fill="#dce7f7"/>
<rect x="87.8" y="483.6" width="15.3" height="6.15" fill="#dce7f7"/>
<rect x="104" y="483.6" width="15.3" height="6.15" fill="#dce7f7"/>
<rect x="120.2" y="483.6" width="15.3" height="6.15" fill="#dce7f7"/>
<rect x="136.4" y="483.6" width="15.3" height="6.15" fill="#dce7f7"/>
<rect x="152.6" y="483.6" width="15.3" height="6.15" fill="#dce7f7"/>
<rect x="168.8" y="483.6" width="15.3" height="6.15" fill="#dce7f7"/>
<rect x="185" y="483.6" width="15.3" height="6.15" fill="#64a6de"/>
<rect x="201.2" y="483.6" width="15.3" height="6.15" fill="#dce7f7"/>
<rect x="217.4" y="483.6" width="15.3" height="6.15" fill="#dce7f7"/>
<rect x="233.6" y="483.6" width="15.3" height="6.15" fill="#dce7f7"/>
<rect x="249.8" y="483.6" width="15.3" height="6.15" fill="#dce7f7"/>
<rect x="277.9" y="483.6" width="15.3" height="6.15" fill="#dce7f7"/>
<rect x="294.1" y="483.6" width="15.3" height="6.15" fill="#dce7f7"/>
<rect x="310.3" y="483.6" width="15.3" height="6.15" fill="#dce7f7"/>
<rect x="326.5" y="483.6" width="15.3" height="6.15" fill="#dce7f7"/>
<rect x="342.7" y="483.6" width="15.3" height="6.15" fill="#dce7f7"/>
<rect x="358.9" y="483.6" width="15.3" height="6.15" fill="#dce7f7"/>
<rect x="375.1" y="483.6" width="15.3" height="6.15" fill="#dce7f7"/>
<rect x="391.3" y="483.6" width="15.3" height="6.15" fill="#dce7f7"/>
<text x="32" y="488.12" class="gl" textLength="20" lengthAdjust="spacingAndGlyphs">RECQL4</text>
<rect x="55.4" y="490.34" width="15.3" height="6.15" fill="#dce7f7"/>
<rect x="71.6" y="490.34" width="15.3" height="6.15" fill="#dce7f7"/>
<rect x="87.8" y="490.34" width="15.3" height="6.15" fill="#dce7f7"/>
<rect x="104" y="490.34" width="15.3" height="6.15" fill="#dce7f7"/>
<rect x="120.2" y="490.34" width="15.3" height="6.15" fill="#dce7f7"/>
<rect x="136.4" y="490.34" width="15.3" height="6.15" fill="#dce7f7"/>
<rect x="152.6" y="490.34" width="15.3" height="6.15" fill="#dce7f7"/>
<rect x="168.8" y="490.34" width="15.3" height="6.15" fill="#dce7f7"/>
<rect x="185" y="490.34" width="15.3" height="6.15" fill="#dce7f7"/>
<rect x="201.2" y="490.34" width="15.3" height="6.15" fill="#64a6de"/>
<rect x="217.4" y="490.34" width="15.3" height="6.15" fill="#dce7f7"/>
<rect x="233.6" y="490.34" width="15.3" height="6.15" fill="#dce7f7"/>
<rect x="249.8" y="490.34" width="15.3" height="6.15" fill="#dce7f7"/>
<rect x="277.9" y="490.34" width="15.3" height="6.15" fill="#dce7f7"/>
<rect x="294.1" y="490.34" width="15.3" height="6.15" fill="#dce7f7"/>
<rect x="310.3" y="490.34" width="15.3" height="6.15" fill="#dce7f7"/>
<rect x="326.5" y="490.34" width="15.3" height="6.15" fill="#dce7f7"/>
<rect x="342.7" y="490.34" width="15.3" height="6.15" fill="#dce7f7"/>
<rect x="358.9" y="490.34" width="15.3" height="6.15" fill="#dce7f7"/>
<rect x="375.1" y="490.34" width="15.3" height="6.15" fill="#dce7f7"/>
<rect x="391.3" y="490.34" width="15.3" height="6.15" fill="#dce7f7"/>
<text x="39.75" y="494.86" class="gl" textLength="12.25" lengthAdjust="spacingAndGlyphs">AKT3</text>
<rect x="55.4" y="497.08" width="15.3" height="6.15" fill="#dce7f7"/>
<rect x="71.6" y="497.08" width="15.3" height="6.15" fill="#dce7f7"/>
<rect x="87.8" y="497.08" width="15.3" height="6.15" fill="#dce7f7"/>
<rect x="104" y="497.08" width="15.3" height="6.15" fill="#dce7f7"/>
<rect x="120.2" y="497.08" width="15.3" height="6.15" fill="#dce7f7"/>
<rect x="136.4" y="497.08" width="15.3" height="6.15" fill="#dce7f7"/>
<rect x="152.6" y="497.08" width="15.3" height="6.15" fill="#dce7f7"/>
<rect x="168.8" y="497.08" width="15.3" height="6.15" fill="#dce7f7"/>
<rect x="185" y="497.08" width="15.3" height="6.15" fill="#dce7f7"/>
<rect x="201.2" y="497.08" width="15.3" height="6.15" fill="#64a6de"/>
<rect x="217.4" y="497.08" width="15.3" height="6.15" fill="#dce7f7"/>
<rect x="233.6" y="497.08" width="15.3" height="6.15" fill="#dce7f7"/>
<rect x="249.8" y="497.08" width="15.3" height="6.15" fill="#dce7f7"/>
<rect x="277.9" y="497.08" width="15.3" height="6.15" fill="#dce7f7"/>
<rect x="294.1" y="497.08" width="15.3" height="6.15" fill="#dce7f7"/>
<rect x="310.3" y="497.08" width="15.3" height="6.15" fill="#dce7f7"/>
<rect x="326.5" y="497.08" width="15.3" height="6.15" fill="#dce7f7"/>
<rect x="342.7" y="497.08" width="15.3" height="6.15" fill="#dce7f7"/>
<rect x="358.9" y="497.08" width="15.3" height="6.15" fill="#dce7f7"/>
<rect x="375.1" y="497.08" width="15.3" height="6.15" fill="#dce7f7"/>
<rect x="391.3" y="497.08" width="15.3" height="6.15" fill="#dce7f7"/>
<text x="39.9" y="501.6" class="gl" textLength="12.1" lengthAdjust="spacingAndGlyphs">EXT1</text>
<rect x="55.4" y="503.82" width="15.3" height="6.15" fill="#dce7f7"/>
<rect x="71.6" y="503.82" width="15.3" height="6.15" fill="#dce7f7"/>
<rect x="87.8" y="503.82" width="15.3" height="6.15" fill="#dce7f7"/>
<rect x="104" y="503.82" width="15.3" height="6.15" fill="#dce7f7"/>
<rect x="120.2" y="503.82" width="15.3" height="6.15" fill="#dce7f7"/>
<rect x="136.4" y="503.82" width="15.3" height="6.15" fill="#dce7f7"/>
<rect x="152.6" y="503.82" width="15.3" height="6.15" fill="#dce7f7"/>
<rect x="168.8" y="503.82" width="15.3" height="6.15" fill="#dce7f7"/>
<rect x="185" y="503.82" width="15.3" height="6.15" fill="#dce7f7"/>
<rect x="201.2" y="503.82" width="15.3" height="6.15" fill="#64a6de"/>
<rect x="217.4" y="503.82" width="15.3" height="6.15" fill="#dce7f7"/>
<rect x="233.6" y="503.82" width="15.3" height="6.15" fill="#dce7f7"/>
<rect x="249.8" y="503.82" width="15.3" height="6.15" fill="#dce7f7"/>
<rect x="277.9" y="503.82" width="15.3" height="6.15" fill="#dce7f7"/>
<rect x="294.1" y="503.82" width="15.3" height="6.15" fill="#dce7f7"/>
<rect x="310.3" y="503.82" width="15.3" height="6.15" fill="#dce7f7"/>
<rect x="326.5" y="503.82" width="15.3" height="6.15" fill="#dce7f7"/>
<rect x="342.7" y="503.82" width="15.3" height="6.15" fill="#dce7f7"/>
<rect x="358.9" y="503.82" width="15.3" height="6.15" fill="#dce7f7"/>
<rect x="375.1" y="503.82" width="15.3" height="6.15" fill="#dce7f7"/>
<rect x="391.3" y="503.82" width="15.3" height="6.15" fill="#dce7f7"/>
<text x="36.3" y="508.34" class="gl" textLength="15.7" lengthAdjust="spacingAndGlyphs">FIP1L1</text>
<rect x="55.4" y="510.56" width="15.3" height="6.15" fill="#dce7f7"/>
<rect x="71.6" y="510.56" width="15.3" height="6.15" fill="#dce7f7"/>
<rect x="87.8" y="510.56" width="15.3" height="6.15" fill="#dce7f7"/>
<rect x="104" y="510.56" width="15.3" height="6.15" fill="#dce7f7"/>
<rect x="120.2" y="510.56" width="15.3" height="6.15" fill="#dce7f7"/>
<rect x="136.4" y="510.56" width="15.3" height="6.15" fill="#dce7f7"/>
<rect x="152.6" y="510.56" width="15.3" height="6.15" fill="#dce7f7"/>
<rect x="168.8" y="510.56" width="15.3" height="6.15" fill="#dce7f7"/>
<rect x="185" y="510.56" width="15.3" height="6.15" fill="#dce7f7"/>
<rect x="201.2" y="510.56" width="15.3" height="6.15" fill="#64a6de"/>
<rect x="217.4" y="510.56" width="15.3" height="6.15" fill="#dce7f7"/>
<rect x="233.6" y="510.56" width="15.3" height="6.15" fill="#dce7f7"/>
<rect x="249.8" y="510.56" width="15.3" height="6.15" fill="#dce7f7"/>
<rect x="277.9" y="510.56" width="15.3" height="6.15" fill="#dce7f7"/>
<rect x="294.1" y="510.56" width="15.3" height="6.15" fill="#dce7f7"/>
<rect x="310.3" y="510.56" width="15.3" height="6.15" fill="#dce7f7"/>
<rect x="326.5" y="510.56" width="15.3" height="6.15" fill="#dce7f7"/>
<rect x="342.7" y="510.56" width="15.3" height="6.15" fill="#dce7f7"/>
<rect x="358.9" y="510.56" width="15.3" height="6.15" fill="#dce7f7"/>
<rect x="375.1" y="510.56" width="15.3" height="6.15" fill="#dce7f7"/>
<rect x="391.3" y="510.56" width="15.3" height="6.15" fill="#dce7f7"/>
<text x="40.4" y="515.08" class="gl" textLength="11.6" lengthAdjust="spacingAndGlyphs">FAT1</text>
<rect x="55.4" y="517.3" width="15.3" height="6.15" fill="#dce7f7"/>
<rect x="71.6" y="517.3" width="15.3" height="6.15" fill="#dce7f7"/>
<rect x="87.8" y="517.3" width="15.3" height="6.15" fill="#dce7f7"/>
<rect x="104" y="517.3" width="15.3" height="6.15" fill="#dce7f7"/>
<rect x="120.2" y="517.3" width="15.3" height="6.15" fill="#dce7f7"/>
<rect x="136.4" y="517.3" width="15.3" height="6.15" fill="#dce7f7"/>
<rect x="152.6" y="517.3" width="15.3" height="6.15" fill="#dce7f7"/>
<rect x="168.8" y="517.3" width="15.3" height="6.15" fill="#dce7f7"/>
<rect x="185" y="517.3" width="15.3" height="6.15" fill="#dce7f7"/>
<rect x="201.2" y="517.3" width="15.3" height="6.15" fill="#dce7f7"/>
<rect x="217.4" y="517.3" width="15.3" height="6.15" fill="#dce7f7"/>
<rect x="233.6" y="517.3" width="15.3" height="6.15" fill="#dce7f7"/>
<rect x="249.8" y="517.3" width="15.3" height="6.15" fill="#dce7f7"/>
<rect x="277.9" y="517.3" width="15.3" height="6.15" fill="#64a6de"/>
<rect x="294.1" y="517.3" width="15.3" height="6.15" fill="#dce7f7"/>
<rect x="310.3" y="517.3" width="15.3" height="6.15" fill="#dce7f7"/>
<rect x="326.5" y="517.3" width="15.3" height="6.15" fill="#dce7f7"/>
<rect x="342.7" y="517.3" width="15.3" height="6.15" fill="#dce7f7"/>
<rect x="358.9" y="517.3" width="15.3" height="6.15" fill="#dce7f7"/>
<rect x="375.1" y="517.3" width="15.3" height="6.15" fill="#dce7f7"/>
<rect x="391.3" y="517.3" width="15.3" height="6.15" fill="#dce7f7"/>
<text x="37.1" y="521.82" class="gl" textLength="14.9" lengthAdjust="spacingAndGlyphs">SRSF2</text>
<rect x="55.4" y="524.04" width="15.3" height="6.15" fill="#dce7f7"/>
<rect x="71.6" y="524.04" width="15.3" height="6.15" fill="#dce7f7"/>
<rect x="87.8" y="524.04" width="15.3" height="6.15" fill="#dce7f7"/>
<rect x="104" y="524.04" width="15.3" height="6.15" fill="#dce7f7"/>
<rect x="120.2" y="524.04" width="15.3" height="6.15" fill="#dce7f7"/>
<rect x="136.4" y="524.04" width="15.3" height="6.15" fill="#dce7f7"/>
<rect x="152.6" y="524.04" width="15.3" height="6.15" fill="#dce7f7"/>
<rect x="168.8" y="524.04" width="15.3" height="6.15" fill="#dce7f7"/>
<rect x="185" y="524.04" width="15.3" height="6.15" fill="#dce7f7"/>
<rect x="201.2" y="524.04" width="15.3" height="6.15" fill="#dce7f7"/>
<rect x="217.4" y="524.04" width="15.3" height="6.15" fill="#dce7f7"/>
<rect x="233.6" y="524.04" width="15.3" height="6.15" fill="#dce7f7"/>
<rect x="249.8" y="524.04" width="15.3" height="6.15" fill="#dce7f7"/>
<rect x="277.9" y="524.04" width="15.3" height="6.15" fill="#64a6de"/>
<rect x="294.1" y="524.04" width="15.3" height="6.15" fill="#dce7f7"/>
<rect x="310.3" y="524.04" width="15.3" height="6.15" fill="#dce7f7"/>
<rect x="326.5" y="524.04" width="15.3" height="6.15" fill="#dce7f7"/>
<rect x="342.7" y="524.04" width="15.3" height="6.15" fill="#dce7f7"/>
<rect x="358.9" y="524.04" width="15.3" height="6.15" fill="#dce7f7"/>
<rect x="375.1" y="524.04" width="15.3" height="6.15" fill="#dce7f7"/>
<rect x="391.3" y="524.04" width="15.3" height="6.15" fill="#dce7f7"/>
<text x="44.3" y="528.56" class="gl" textLength="7.42" lengthAdjust="spacingAndGlyphs">KIT</text>
<rect x="55.4" y="530.78" width="15.3" height="6.15" fill="#dce7f7"/>
<rect x="71.6" y="530.78" width="15.3" height="6.15" fill="#64a6de"/>
<rect x="87.8" y="530.78" width="15.3" height="6.15" fill="#dce7f7"/>
<rect x="104" y="530.78" width="15.3" height="6.15" fill="#dce7f7"/>
<rect x="120.2" y="530.78" width="15.3" height="6.15" fill="#dce7f7"/>
<rect x="136.4" y="530.78" width="15.3" height="6.15" fill="#dce7f7"/>
<rect x="152.6" y="530.78" width="15.3" height="6.15" fill="#dce7f7"/>
<rect x="168.8" y="530.78" width="15.3" height="6.15" fill="#dce7f7"/>
<rect x="185" y="530.78" width="15.3" height="6.15" fill="#dce7f7"/>
<rect x="201.2" y="530.78" width="15.3" height="6.15" fill="#dce7f7"/>
<rect x="217.4" y="530.78" width="15.3" height="6.15" fill="#dce7f7"/>
<rect x="233.6" y="530.78" width="15.3" height="6.15" fill="#dce7f7"/>
<rect x="249.8" y="530.78" width="15.3" height="6.15" fill="#dce7f7"/>
<rect x="277.9" y="530.78" width="15.3" height="6.15" fill="#dce7f7"/>
<rect x="294.1" y="530.78" width="15.3" height="6.15" fill="#dce7f7"/>
<rect x="310.3" y="530.78" width="15.3" height="6.15" fill="#dce7f7"/>
<rect x="326.5" y="530.78" width="15.3" height="6.15" fill="#dce7f7"/>
<rect x="342.7" y="530.78" width="15.3" height="6.15" fill="#dce7f7"/>
<rect x="358.9" y="530.78" width="15.3" height="6.15" fill="#dce7f7"/>
<rect x="375.1" y="530.78" width="15.3" height="6.15" fill="#dce7f7"/>
<rect x="391.3" y="530.78" width="15.3" height="6.15" fill="#dce7f7"/>
<text x="38.8" y="535.3" class="gl" textLength="13.2" lengthAdjust="spacingAndGlyphs">BBC3</text>
<rect x="55.4" y="537.52" width="15.3" height="6.15" fill="#dce7f7"/>
<rect x="71.6" y="537.52" width="15.3" height="6.15" fill="#64a6de"/>
<rect x="87.8" y="537.52" width="15.3" height="6.15" fill="#dce7f7"/>
<rect x="104" y="537.52" width="15.3" height="6.15" fill="#dce7f7"/>
<rect x="120.2" y="537.52" width="15.3" height="6.15" fill="#dce7f7"/>
<rect x="136.4" y="537.52" width="15.3" height="6.15" fill="#dce7f7"/>
<rect x="152.6" y="537.52" width="15.3" height="6.15" fill="#dce7f7"/>
<rect x="168.8" y="537.52" width="15.3" height="6.15" fill="#dce7f7"/>
<rect x="185" y="537.52" width="15.3" height="6.15" fill="#dce7f7"/>
<rect x="201.2" y="537.52" width="15.3" height="6.15" fill="#dce7f7"/>
<rect x="217.4" y="537.52" width="15.3" height="6.15" fill="#dce7f7"/>
<rect x="233.6" y="537.52" width="15.3" height="6.15" fill="#dce7f7"/>
<rect x="249.8" y="537.52" width="15.3" height="6.15" fill="#dce7f7"/>
<rect x="277.9" y="537.52" width="15.3" height="6.15" fill="#dce7f7"/>
<rect x="294.1" y="537.52" width="15.3" height="6.15" fill="#dce7f7"/>
<rect x="310.3" y="537.52" width="15.3" height="6.15" fill="#dce7f7"/>
<rect x="326.5" y="537.52" width="15.3" height="6.15" fill="#dce7f7"/>
<rect x="342.7" y="537.52" width="15.3" height="6.15" fill="#dce7f7"/>
<rect x="358.9" y="537.52" width="15.3" height="6.15" fill="#dce7f7"/>
<rect x="375.1" y="537.52" width="15.3" height="6.15" fill="#dce7f7"/>
<rect x="391.3" y="537.52" width="15.3" height="6.15" fill="#dce7f7"/>
<text x="36.1" y="542.04" class="gl" textLength="15.62" lengthAdjust="spacingAndGlyphs">PTPRT</text>
<rect x="55.4" y="544.26" width="15.3" height="6.15" fill="#dce7f7"/>
<rect x="71.6" y="544.26" width="15.3" height="6.15" fill="#dce7f7"/>
<rect x="87.8" y="544.26" width="15.3" height="6.15" fill="#dce7f7"/>
<rect x="104" y="544.26" width="15.3" height="6.15" fill="#dce7f7"/>
<rect x="120.2" y="544.26" width="15.3" height="6.15" fill="#dce7f7"/>
<rect x="136.4" y="544.26" width="15.3" height="6.15" fill="#dce7f7"/>
<rect x="152.6" y="544.26" width="15.3" height="6.15" fill="#dce7f7"/>
<rect x="168.8" y="544.26" width="15.3" height="6.15" fill="#dce7f7"/>
<rect x="185" y="544.26" width="15.3" height="6.15" fill="#dce7f7"/>
<rect x="201.2" y="544.26" width="15.3" height="6.15" fill="#dce7f7"/>
<rect x="217.4" y="544.26" width="15.3" height="6.15" fill="#dce7f7"/>
<rect x="233.6" y="544.26" width="15.3" height="6.15" fill="#f0bb1c"/>
<rect x="249.8" y="544.26" width="15.3" height="6.15" fill="#dce7f7"/>
<rect x="277.9" y="544.26" width="15.3" height="6.15" fill="#dce7f7"/>
<rect x="294.1" y="544.26" width="15.3" height="6.15" fill="#dce7f7"/>
<rect x="310.3" y="544.26" width="15.3" height="6.15" fill="#dce7f7"/>
<rect x="326.5" y="544.26" width="15.3" height="6.15" fill="#dce7f7"/>
<rect x="342.7" y="544.26" width="15.3" height="6.15" fill="#dce7f7"/>
<rect x="358.9" y="544.26" width="15.3" height="6.15" fill="#dce7f7"/>
<rect x="375.1" y="544.26" width="15.3" height="6.15" fill="#dce7f7"/>
<rect x="391.3" y="544.26" width="15.3" height="6.15" fill="#dce7f7"/>
<text x="18.7" y="548.78" class="gl" textLength="33.29" lengthAdjust="spacingAndGlyphs">STK17B-BCL6</text>
<rect x="55.4" y="551" width="15.3" height="6.15" fill="#dce7f7"/>
<rect x="71.6" y="551" width="15.3" height="6.15" fill="#dce7f7"/>
<rect x="87.8" y="551" width="15.3" height="6.15" fill="#dce7f7"/>
<rect x="104" y="551" width="15.3" height="6.15" fill="#dce7f7"/>
<rect x="120.2" y="551" width="15.3" height="6.15" fill="#dce7f7"/>
<rect x="136.4" y="551" width="15.3" height="6.15" fill="#dce7f7"/>
<rect x="152.6" y="551" width="15.3" height="6.15" fill="#dce7f7"/>
<rect x="168.8" y="551" width="15.3" height="6.15" fill="#dce7f7"/>
<rect x="185" y="551" width="15.3" height="6.15" fill="#dce7f7"/>
<rect x="201.2" y="551" width="15.3" height="6.15" fill="#dce7f7"/>
<rect x="217.4" y="551" width="15.3" height="6.15" fill="#dce7f7"/>
<rect x="233.6" y="551" width="15.3" height="6.15" fill="#64a6de"/>
<rect x="249.8" y="551" width="15.3" height="6.15" fill="#dce7f7"/>
<rect x="277.9" y="551" width="15.3" height="6.15" fill="#dce7f7"/>
<rect x="294.1" y="551" width="15.3" height="6.15" fill="#dce7f7"/>
<rect x="310.3" y="551" width="15.3" height="6.15" fill="#dce7f7"/>
<rect x="326.5" y="551" width="15.3" height="6.15" fill="#dce7f7"/>
<rect x="342.7" y="551" width="15.3" height="6.15" fill="#dce7f7"/>
<rect x="358.9" y="551" width="15.3" height="6.15" fill="#dce7f7"/>
<rect x="375.1" y="551" width="15.3" height="6.15" fill="#dce7f7"/>
<rect x="391.3" y="551" width="15.3" height="6.15" fill="#dce7f7"/>
<text x="36.59" y="555.52" class="gl" textLength="15.41" lengthAdjust="spacingAndGlyphs">ZRSR2</text>
<rect x="55.4" y="557.74" width="15.3" height="6.15" fill="#dce7f7"/>
<rect x="71.6" y="557.74" width="15.3" height="6.15" fill="#dce7f7"/>
<rect x="87.8" y="557.74" width="15.3" height="6.15" fill="#dce7f7"/>
<rect x="104" y="557.74" width="15.3" height="6.15" fill="#dce7f7"/>
<rect x="120.2" y="557.74" width="15.3" height="6.15" fill="#dce7f7"/>
<rect x="136.4" y="557.74" width="15.3" height="6.15" fill="#dce7f7"/>
<rect x="152.6" y="557.74" width="15.3" height="6.15" fill="#dce7f7"/>
<rect x="168.8" y="557.74" width="15.3" height="6.15" fill="#dce7f7"/>
<rect x="185" y="557.74" width="15.3" height="6.15" fill="#dce7f7"/>
<rect x="201.2" y="557.74" width="15.3" height="6.15" fill="#dce7f7"/>
<rect x="217.4" y="557.74" width="15.3" height="6.15" fill="#dce7f7"/>
<rect x="233.6" y="557.74" width="15.3" height="6.15" fill="#dce7f7"/>
<rect x="249.8" y="557.74" width="15.3" height="6.15" fill="#dce7f7"/>
<rect x="277.9" y="557.74" width="15.3" height="6.15" fill="#dce7f7"/>
<rect x="294.1" y="557.74" width="15.3" height="6.15" fill="#dce7f7"/>
<rect x="310.3" y="557.74" width="15.3" height="6.15" fill="#dce7f7"/>
<rect x="326.5" y="557.74" width="15.3" height="6.15" fill="#dce7f7"/>
<rect x="342.7" y="557.74" width="15.3" height="6.15" fill="#dce7f7"/>
<rect x="358.9" y="557.74" width="15.3" height="6.15" fill="#dce7f7"/>
<rect x="375.1" y="557.74" width="15.3" height="6.15" fill="#64a6de"/>
<rect x="391.3" y="557.74" width="15.3" height="6.15" fill="#dce7f7"/>
<text x="38.1" y="562.26" class="gl" textLength="13.9" lengthAdjust="spacingAndGlyphs">NRAS</text>
<rect x="55.4" y="564.48" width="15.3" height="6.15" fill="#dce7f7"/>
<rect x="71.6" y="564.48" width="15.3" height="6.15" fill="#dce7f7"/>
<rect x="87.8" y="564.48" width="15.3" height="6.15" fill="#dce7f7"/>
<rect x="104" y="564.48" width="15.3" height="6.15" fill="#dce7f7"/>
<rect x="120.2" y="564.48" width="15.3" height="6.15" fill="#dce7f7"/>
<rect x="136.4" y="564.48" width="15.3" height="6.15" fill="#dce7f7"/>
<rect x="152.6" y="564.48" width="15.3" height="6.15" fill="#dce7f7"/>
<rect x="168.8" y="564.48" width="15.3" height="6.15" fill="#dce7f7"/>
<rect x="185" y="564.48" width="15.3" height="6.15" fill="#dce7f7"/>
<rect x="201.2" y="564.48" width="15.3" height="6.15" fill="#dce7f7"/>
<rect x="217.4" y="564.48" width="15.3" height="6.15" fill="#dce7f7"/>
<rect x="233.6" y="564.48" width="15.3" height="6.15" fill="#dce7f7"/>
<rect x="249.8" y="564.48" width="15.3" height="6.15" fill="#dce7f7"/>
<rect x="277.9" y="564.48" width="15.3" height="6.15" fill="#dce7f7"/>
<rect x="294.1" y="564.48" width="15.3" height="6.15" fill="#dce7f7"/>
<rect x="310.3" y="564.48" width="15.3" height="6.15" fill="#dce7f7"/>
<rect x="326.5" y="564.48" width="15.3" height="6.15" fill="#dce7f7"/>
<rect x="342.7" y="564.48" width="15.3" height="6.15" fill="#dce7f7"/>
<rect x="358.9" y="564.48" width="15.3" height="6.15" fill="#dce7f7"/>
<rect x="375.1" y="564.48" width="15.3" height="6.15" fill="#64a6de"/>
<rect x="391.3" y="564.48" width="15.3" height="6.15" fill="#dce7f7"/>
<text x="41.3" y="569" class="gl" textLength="10.7" lengthAdjust="spacingAndGlyphs">IRF4</text>
<rect x="55.4" y="571.22" width="15.3" height="6.15" fill="#dce7f7"/>
<rect x="71.6" y="571.22" width="15.3" height="6.15" fill="#dce7f7"/>
<rect x="87.8" y="571.22" width="15.3" height="6.15" fill="#dce7f7"/>
<rect x="104" y="571.22" width="15.3" height="6.15" fill="#dce7f7"/>
<rect x="120.2" y="571.22" width="15.3" height="6.15" fill="#dce7f7"/>
<rect x="136.4" y="571.22" width="15.3" height="6.15" fill="#dce7f7"/>
<rect x="152.6" y="571.22" width="15.3" height="6.15" fill="#dce7f7"/>
<rect x="168.8" y="571.22" width="15.3" height="6.15" fill="#a5001f"/>
<rect x="185" y="571.22" width="15.3" height="6.15" fill="#dce7f7"/>
<rect x="201.2" y="571.22" width="15.3" height="6.15" fill="#dce7f7"/>
<rect x="217.4" y="571.22" width="15.3" height="6.15" fill="#dce7f7"/>
<rect x="233.6" y="571.22" width="15.3" height="6.15" fill="#dce7f7"/>
<rect x="249.8" y="571.22" width="15.3" height="6.15" fill="#dce7f7"/>
<rect x="277.9" y="571.22" width="15.3" height="6.15" fill="#dce7f7"/>
<rect x="294.1" y="571.22" width="15.3" height="6.15" fill="#dce7f7"/>
<rect x="310.3" y="571.22" width="15.3" height="6.15" fill="#dce7f7"/>
<rect x="326.5" y="571.22" width="15.3" height="6.15" fill="#dce7f7"/>
<rect x="342.7" y="571.22" width="15.3" height="6.15" fill="#dce7f7"/>
<rect x="358.9" y="571.22" width="15.3" height="6.15" fill="#dce7f7"/>
<rect x="375.1" y="571.22" width="15.3" height="6.15" fill="#dce7f7"/>
<rect x="391.3" y="571.22" width="15.3" height="6.15" fill="#dce7f7"/>
<text x="31.6" y="575.74" class="gl" textLength="20.4" lengthAdjust="spacingAndGlyphs">TNFAIP3</text>
<rect x="55.4" y="577.96" width="15.3" height="6.15" fill="#dce7f7"/>
<rect x="71.6" y="577.96" width="15.3" height="6.15" fill="#dce7f7"/>
<rect x="87.8" y="577.96" width="15.3" height="6.15" fill="#dce7f7"/>
<rect x="104" y="577.96" width="15.3" height="6.15" fill="#dce7f7"/>
<rect x="120.2" y="577.96" width="15.3" height="6.15" fill="#dce7f7"/>
<rect x="136.4" y="577.96" width="15.3" height="6.15" fill="#dce7f7"/>
<rect x="152.6" y="577.96" width="15.3" height="6.15" fill="#dce7f7"/>
<rect x="168.8" y="577.96" width="15.3" height="6.15" fill="#dce7f7"/>
<rect x="185" y="577.96" width="15.3" height="6.15" fill="#dce7f7"/>
<rect x="201.2" y="577.96" width="15.3" height="6.15" fill="#dce7f7"/>
<rect x="217.4" y="577.96" width="15.3" height="6.15" fill="#64a6de"/>
<rect x="233.6" y="577.96" width="15.3" height="6.15" fill="#dce7f7"/>
<rect x="249.8" y="577.96" width="15.3" height="6.15" fill="#dce7f7"/>
<rect x="277.9" y="577.96" width="15.3" height="6.15" fill="#dce7f7"/>
<rect x="294.1" y="577.96" width="15.3" height="6.15" fill="#dce7f7"/>
<rect x="310.3" y="577.96" width="15.3" height="6.15" fill="#dce7f7"/>
<rect x="326.5" y="577.96" width="15.3" height="6.15" fill="#dce7f7"/>
<rect x="342.7" y="577.96" width="15.3" height="6.15" fill="#dce7f7"/>
<rect x="358.9" y="577.96" width="15.3" height="6.15" fill="#dce7f7"/>
<rect x="375.1" y="577.96" width="15.3" height="6.15" fill="#dce7f7"/>
<rect x="391.3" y="577.96" width="15.3" height="6.15" fill="#dce7f7"/>
<text x="35.4" y="582.48" class="gl" textLength="16.6" lengthAdjust="spacingAndGlyphs">CDK12</text>
<rect x="55.4" y="584.7" width="15.3" height="6.15" fill="#dce7f7"/>
<rect x="71.6" y="584.7" width="15.3" height="6.15" fill="#dce7f7"/>
<rect x="87.8" y="584.7" width="15.3" height="6.15" fill="#dce7f7"/>
<rect x="104" y="584.7" width="15.3" height="6.15" fill="#dce7f7"/>
<rect x="120.2" y="584.7" width="15.3" height="6.15" fill="#dce7f7"/>
<rect x="136.4" y="584.7" width="15.3" height="6.15" fill="#dce7f7"/>
<rect x="152.6" y="584.7" width="15.3" height="6.15" fill="#dce7f7"/>
<rect x="168.8" y="584.7" width="15.3" height="6.15" fill="#64a6de"/>
<rect x="185" y="584.7" width="15.3" height="6.15" fill="#dce7f7"/>
<rect x="201.2" y="584.7" width="15.3" height="6.15" fill="#dce7f7"/>
<rect x="217.4" y="584.7" width="15.3" height="6.15" fill="#dce7f7"/>
<rect x="233.6" y="584.7" width="15.3" height="6.15" fill="#dce7f7"/>
<rect x="249.8" y="584.7" width="15.3" height="6.15" fill="#dce7f7"/>
<rect x="277.9" y="584.7" width="15.3" height="6.15" fill="#dce7f7"/>
<rect x="294.1" y="584.7" width="15.3" height="6.15" fill="#dce7f7"/>
<rect x="310.3" y="584.7" width="15.3" height="6.15" fill="#dce7f7"/>
<rect x="326.5" y="584.7" width="15.3" height="6.15" fill="#dce7f7"/>
<rect x="342.7" y="584.7" width="15.3" height="6.15" fill="#dce7f7"/>
<rect x="358.9" y="584.7" width="15.3" height="6.15" fill="#dce7f7"/>
<rect x="375.1" y="584.7" width="15.3" height="6.15" fill="#dce7f7"/>
<rect x="391.3" y="584.7" width="15.3" height="6.15" fill="#dce7f7"/>
<text x="39.4" y="589.22" class="gl" textLength="12.6" lengthAdjust="spacingAndGlyphs">FGF4</text>
<rect x="55.4" y="591.44" width="15.3" height="6.15" fill="#dce7f7"/>
<rect x="71.6" y="591.44" width="15.3" height="6.15" fill="#dce7f7"/>
<rect x="87.8" y="591.44" width="15.3" height="6.15" fill="#dce7f7"/>
<rect x="104" y="591.44" width="15.3" height="6.15" fill="#dce7f7"/>
<rect x="120.2" y="591.44" width="15.3" height="6.15" fill="#dce7f7"/>
<rect x="136.4" y="591.44" width="15.3" height="6.15" fill="#dce7f7"/>
<rect x="152.6" y="591.44" width="15.3" height="6.15" fill="#dce7f7"/>
<rect x="168.8" y="591.44" width="15.3" height="6.15" fill="#dce7f7"/>
<rect x="185" y="591.44" width="15.3" height="6.15" fill="#dce7f7"/>
<rect x="201.2" y="591.44" width="15.3" height="6.15" fill="#dce7f7"/>
<rect x="217.4" y="591.44" width="15.3" height="6.15" fill="#dce7f7"/>
<rect x="233.6" y="591.44" width="15.3" height="6.15" fill="#dce7f7"/>
<rect x="249.8" y="591.44" width="15.3" height="6.15" fill="#dce7f7"/>
<rect x="277.9" y="591.44" width="15.3" height="6.15" fill="#dce7f7"/>
<rect x="294.1" y="591.44" width="15.3" height="6.15" fill="#dce7f7"/>
<rect x="310.3" y="591.44" width="7.2" height="6.15" fill="#64a6de"/>
<rect x="318.4" y="591.44" width="7.2" height="6.15" fill="#64a6de"/>
<rect x="326.5" y="591.44" width="15.3" height="6.15" fill="#dce7f7"/>
<rect x="342.7" y="591.44" width="15.3" height="6.15" fill="#dce7f7"/>
<rect x="358.9" y="591.44" width="15.3" height="6.15" fill="#dce7f7"/>
<rect x="375.1" y="591.44" width="15.3" height="6.15" fill="#dce7f7"/>
<rect x="391.3" y="591.44" width="15.3" height="6.15" fill="#dce7f7"/>
<text x="34.5" y="595.96" class="gl" textLength="17.5" lengthAdjust="spacingAndGlyphs">MYD88</text>
<rect x="55.4" y="598.18" width="15.3" height="6.15" fill="#dce7f7"/>
<rect x="71.6" y="598.18" width="15.3" height="6.15" fill="#dce7f7"/>
<rect x="87.8" y="598.18" width="15.3" height="6.15" fill="#dce7f7"/>
<rect x="104" y="598.18" width="15.3" height="6.15" fill="#dce7f7"/>
<rect x="120.2" y="598.18" width="15.3" height="6.15" fill="#dce7f7"/>
<rect x="136.4" y="598.18" width="15.3" height="6.15" fill="#dce7f7"/>
<rect x="152.6" y="598.18" width="15.3" height="6.15" fill="#dce7f7"/>
<rect x="168.8" y="598.18" width="15.3" height="6.15" fill="#dce7f7"/>
<rect x="185" y="598.18" width="15.3" height="6.15" fill="#dce7f7"/>
<rect x="201.2" y="598.18" width="15.3" height="6.15" fill="#dce7f7"/>
<rect x="217.4" y="598.18" width="15.3" height="6.15" fill="#dce7f7"/>
<rect x="233.6" y="598.18" width="15.3" height="6.15" fill="#dce7f7"/>
<rect x="249.8" y="598.18" width="15.3" height="6.15" fill="#dce7f7"/>
<rect x="277.9" y="598.18" width="15.3" height="6.15" fill="#dce7f7"/>
<rect x="294.1" y="598.18" width="15.3" height="6.15" fill="#dce7f7"/>
<rect x="310.3" y="598.18" width="15.3" height="6.15" fill="#64a6de"/>
<rect x="326.5" y="598.18" width="15.3" height="6.15" fill="#dce7f7"/>
<rect x="342.7" y="598.18" width="15.3" height="6.15" fill="#dce7f7"/>
<rect x="358.9" y="598.18" width="15.3" height="6.15" fill="#dce7f7"/>
<rect x="375.1" y="598.18" width="15.3" height="6.15" fill="#dce7f7"/>
<rect x="391.3" y="598.18" width="15.3" height="6.15" fill="#dce7f7"/>
<text x="38.9" y="602.7" class="gl" textLength="13.1" lengthAdjust="spacingAndGlyphs">ROS1</text>
<rect x="411.8" y="34.07" width="63.6" height="3.9" fill="#3e475e"/>
<rect x="411.8" y="40.81" width="19.88" height="3.9" fill="#3e475e"/>
<rect x="411.8" y="47.55" width="7.95" height="3.9" fill="#3e475e"/>
<rect x="411.8" y="54.29" width="7.95" height="3.9" fill="#3e475e"/>
<rect x="411.8" y="61.03" width="7.95" height="3.9" fill="#3e475e"/>
<rect x="411.8" y="67.77" width="7.95" height="3.9" fill="#3e475e"/>
<rect x="411.8" y="74.51" width="3.98" height="3.9" fill="#3e475e"/>
<rect x="411.8" y="81.25" width="3.98" height="3.9" fill="#3e475e"/>
<rect x="411.8" y="87.99" width="3.98" height="3.9" fill="#3e475e"/>
<rect x="411.8" y="94.73" width="3.98" height="3.9" fill="#3e475e"/>
<rect x="411.8" y="101.47" width="3.98" height="3.9" fill="#3e475e"/>
<rect x="411.8" y="108.21" width="3.98" height="3.9" fill="#3e475e"/>
<rect x="411.8" y="114.95" width="3.98" height="3.9" fill="#3e475e"/>
<rect x="411.8" y="121.69" width="3.98" height="3.9" fill="#3e475e"/>
<rect x="411.8" y="128.43" width="3.98" height="3.9" fill="#3e475e"/>
<rect x="411.8" y="135.17" width="3.98" height="3.9" fill="#3e475e"/>
<rect x="411.8" y="141.91" width="3.98" height="3.9" fill="#3e475e"/>
<rect x="411.8" y="148.65" width="3.98" height="3.9" fill="#3e475e"/>
<rect x="411.8" y="155.39" width="3.98" height="3.9" fill="#3e475e"/>
<rect x="411.8" y="162.13" width="3.98" height="3.9" fill="#3e475e"/>
<rect x="411.8" y="168.87" width="3.98" height="3.9" fill="#3e475e"/>
<rect x="411.8" y="175.61" width="3.98" height="3.9" fill="#3e475e"/>
<rect x="411.8" y="182.35" width="3.98" height="3.9" fill="#3e475e"/>
<rect x="411.8" y="189.09" width="3.98" height="3.9" fill="#3e475e"/>
<rect x="411.8" y="195.83" width="3.98" height="3.9" fill="#3e475e"/>
<rect x="411.8" y="202.57" width="3.98" height="3.9" fill="#3e475e"/>
<rect x="411.8" y="209.31" width="3.98" height="3.9" fill="#3e475e"/>
<rect x="411.8" y="216.05" width="3.98" height="3.9" fill="#3e475e"/>
<rect x="411.8" y="222.79" width="3.98" height="3.9" fill="#3e475e"/>
<rect x="411.8" y="229.53" width="3.98" height="3.9" fill="#3e475e"/>
<rect x="411.8" y="236.27" width="3.98" height="3.9" fill="#3e475e"/>
<rect x="411.8" y="243.01" width="3.98" height="3.9" fill="#3e475e"/>
<rect x="411.8" y="249.75" width="3.98" height="3.9" fill="#3e475e"/>
<rect x="411.8" y="256.49" width="3.98" height="3.9" fill="#3e475e"/>
<rect x="411.8" y="282.57" width="27.82" height="3.9" fill="#3e475e"/>
<rect x="411.8" y="289.31" width="11.93" height="3.9" fill="#3e475e"/>
<rect x="411.8" y="296.05" width="7.95" height="3.9" fill="#3e475e"/>
<rect x="411.8" y="302.79" width="7.95" height="3.9" fill="#3e475e"/>
<rect x="411.8" y="309.53" width="7.95" height="3.9" fill="#3e475e"/>
<rect x="411.8" y="316.27" width="7.95" height="3.9" fill="#3e475e"/>
<rect x="411.8" y="323.01" width="7.95" height="3.9" fill="#3e475e"/>
<rect x="411.8" y="329.75" width="3.98" height="3.9" fill="#3e475e"/>
<rect x="411.8" y="336.49" width="3.98" height="3.9" fill="#3e475e"/>
<rect x="411.8" y="343.23" width="3.98" height="3.9" fill="#3e475e"/>
<rect x="411.8" y="349.97" width="3.98" height="3.9" fill="#3e475e"/>
<rect x="411.8" y="356.71" width="3.98" height="3.9" fill="#3e475e"/>
<rect x="411.8" y="363.45" width="3.98" height="3.9" fill="#3e475e"/>
<rect x="411.8" y="370.19" width="3.98" height="3.9" fill="#3e475e"/>
<rect x="411.8" y="376.93" width="3.98" height="3.9" fill="#3e475e"/>
<rect x="411.8" y="383.67" width="3.98" height="3.9" fill="#3e475e"/>
<rect x="411.8" y="390.41" width="3.98" height="3.9" fill="#3e475e"/>
<rect x="411.8" y="397.15" width="3.98" height="3.9" fill="#3e475e"/>
<rect x="411.8" y="403.89" width="3.98" height="3.9" fill="#3e475e"/>
<rect x="411.8" y="410.63" width="3.98" height="3.9" fill="#3e475e"/>
<rect x="411.8" y="417.37" width="3.98" height="3.9" fill="#3e475e"/>
<rect x="411.8" y="424.11" width="3.98" height="3.9" fill="#3e475e"/>
<rect x="411.8" y="430.85" width="3.98" height="3.9" fill="#3e475e"/>
<rect x="411.8" y="437.59" width="3.98" height="3.9" fill="#3e475e"/>
<rect x="411.8" y="444.33" width="3.98" height="3.9" fill="#3e475e"/>
<rect x="411.8" y="451.07" width="3.98" height="3.9" fill="#3e475e"/>
<rect x="411.8" y="457.81" width="3.98" height="3.9" fill="#3e475e"/>
<rect x="411.8" y="464.55" width="3.98" height="3.9" fill="#3e475e"/>
<rect x="411.8" y="471.29" width="3.98" height="3.9" fill="#3e475e"/>
<rect x="411.8" y="478.03" width="3.98" height="3.9" fill="#3e475e"/>
<rect x="411.8" y="484.77" width="3.98" height="3.9" fill="#3e475e"/>
<rect x="411.8" y="491.51" width="3.98" height="3.9" fill="#3e475e"/>
<rect x="411.8" y="498.25" width="3.98" height="3.9" fill="#3e475e"/>
<rect x="411.8" y="504.99" width="3.98" height="3.9" fill="#3e475e"/>
<rect x="411.8" y="511.73" width="3.98" height="3.9" fill="#3e475e"/>
<rect x="411.8" y="518.47" width="3.98" height="3.9" fill="#3e475e"/>
<rect x="411.8" y="525.21" width="3.98" height="3.9" fill="#3e475e"/>
<rect x="411.8" y="531.95" width="3.98" height="3.9" fill="#3e475e"/>
<rect x="411.8" y="538.69" width="3.98" height="3.9" fill="#3e475e"/>
<rect x="411.8" y="545.43" width="3.98" height="3.9" fill="#3e475e"/>
<rect x="411.8" y="552.17" width="3.98" height="3.9" fill="#3e475e"/>
<rect x="411.8" y="558.91" width="3.98" height="3.9" fill="#3e475e"/>
<rect x="411.8" y="565.65" width="3.98" height="3.9" fill="#3e475e"/>
<rect x="411.8" y="572.39" width="3.98" height="3.9" fill="#3e475e"/>
<rect x="411.8" y="579.13" width="3.98" height="3.9" fill="#3e475e"/>
<rect x="411.8" y="585.87" width="3.98" height="3.9" fill="#3e475e"/>
<rect x="411.8" y="592.61" width="3.98" height="3.9" fill="#3e475e"/>
<rect x="411.8" y="599.35" width="3.98" height="3.9" fill="#3e475e"/>
<rect x="410.9" y="31" width="1.3" height="232.2" fill="#000"/>
<rect x="410.9" y="262.6" width="71" height="1.1" fill="#000"/>
<rect x="411.2" y="263.2" width="0.9" height="1.8" fill="#000"/>
<text x="411.5" y="273.6" class="tk">0</text>
<rect x="428.12" y="263.2" width="0.9" height="1.8" fill="#000"/>
<text x="428.42" y="273.6" class="tk">20</text>
<rect x="445.04" y="263.2" width="0.9" height="1.8" fill="#000"/>
<text x="445.34" y="273.6" class="tk">40</text>
<rect x="461.96" y="263.2" width="0.9" height="1.8" fill="#000"/>
<text x="462.26" y="273.6" class="tk">60</text>
<rect x="478.88" y="263.2" width="0.9" height="1.8" fill="#000"/>
<text x="479.18" y="273.6" class="tk">80</text>
<rect x="410.9" y="278.6" width="1.3" height="326.5" fill="#000"/>
<rect x="410.9" y="604.5" width="71" height="1.1" fill="#000"/>
<rect x="411.2" y="605.1" width="0.9" height="1.8" fill="#000"/>
<text x="411.5" y="616.2" class="tk">0</text>
<rect x="428.12" y="605.1" width="0.9" height="1.8" fill="#000"/>
<text x="428.42" y="616.2" class="tk">20</text>
<rect x="445.04" y="605.1" width="0.9" height="1.8" fill="#000"/>
<text x="445.34" y="616.2" class="tk">40</text>
<rect x="461.96" y="605.1" width="0.9" height="1.8" fill="#000"/>
<text x="462.26" y="616.2" class="tk">60</text>
<rect x="478.88" y="605.1" width="0.9" height="1.8" fill="#000"/>
<text x="479.18" y="616.2" class="tk">80</text>
<text x="446.8" y="627.3" style="font-size:8.4px;fill:#111;stroke:#222;stroke-width:0.08px" text-anchor="middle" textLength="41.7" lengthAdjust="spacingAndGlyphs">Percent of cases</text>
<rect x="467.4" y="91.3" width="16.8" height="7" fill="#64a6de"/>
<rect x="467.4" y="102.3" width="16.8" height="6.6" fill="#64a23a"/>
<rect x="467.4" y="112.6" width="16.8" height="6.4" fill="#a5001f"/>
<rect x="467.4" y="123" width="16.8" height="6.3" fill="#f0bb1c"/>
<text x="487.4" y="96.9" class="lg" textLength="21.8" lengthAdjust="spacingAndGlyphs">Missense</text>
<text x="487.4" y="107.6" class="lg" textLength="25" lengthAdjust="spacingAndGlyphs">Frameshift</text>
<text x="487.4" y="117.8" class="lg" textLength="23" lengthAdjust="spacingAndGlyphs">Nonsense</text>
<text x="487.4" y="128.1" class="lg" textLength="14.5" lengthAdjust="spacingAndGlyphs">Other</text>
<rect x="58.8" y="609.6" width="5.3" height="50.4" fill="#4f2260"/>
<rect x="64.1" y="609.6" width="4.9" height="39.2" fill="#f7dc9a"/>
<rect x="74.8" y="609.6" width="5.3" height="28" fill="#4f2260"/>
<rect x="80.1" y="609.6" width="4.9" height="22.4" fill="#f7dc9a"/>
<rect x="90.8" y="609.6" width="5.3" height="28" fill="#4f2260"/>
<rect x="96.1" y="609.6" width="4.9" height="16.8" fill="#f7dc9a"/>
<rect x="106.8" y="609.6" width="5.3" height="11.2" fill="#4f2260"/>
<rect x="112.1" y="609.6" width="4.9" height="11.2" fill="#f7dc9a"/>
<rect x="122.8" y="609.6" width="5.3" height="11.2" fill="#4f2260"/>
<rect x="128.1" y="609.6" width="4.9" height="5.6" fill="#f7dc9a"/>
<rect x="138.8" y="609.6" width="5.3" height="11.2" fill="#4f2260"/>
<rect x="144.1" y="609.6" width="4.9" height="11.2" fill="#f7dc9a"/>
<rect x="154.8" y="609.6" width="5.3" height="5.6" fill="#4f2260"/>
<rect x="160.1" y="609.6" width="4.9" height="5.6" fill="#f7dc9a"/>
<rect x="170.8" y="609.6" width="5.3" height="5.6" fill="#4f2260"/>
<rect x="176.1" y="609.6" width="4.9" height="5.6" fill="#f7dc9a"/>
<rect x="186.8" y="609.6" width="5.3" height="22.4" fill="#4f2260"/>
<rect x="192.1" y="609.6" width="4.9" height="11.2" fill="#f7dc9a"/>
<rect x="202.8" y="609.6" width="5.3" height="11.2" fill="#4f2260"/>
<rect x="208.1" y="609.6" width="4.9" height="11.2" fill="#f7dc9a"/>
<rect x="218.8" y="609.6" width="5.3" height="11.2" fill="#4f2260"/>
<rect x="224.1" y="609.6" width="4.9" height="5.6" fill="#f7dc9a"/>
<rect x="281.1" y="609.6" width="5.3" height="28" fill="#4f2260"/>
<rect x="286.4" y="609.6" width="4.9" height="5.6" fill="#f7dc9a"/>
<rect x="297.1" y="609.6" width="5.3" height="16.8" fill="#4f2260"/>
<rect x="302.4" y="609.6" width="4.9" height="11.2" fill="#f7dc9a"/>
<rect x="313.1" y="609.6" width="5.3" height="5.6" fill="#4f2260"/>
<rect x="318.4" y="609.6" width="4.9" height="5.6" fill="#f7dc9a"/>
<rect x="329.1" y="609.6" width="5.3" height="5.6" fill="#4f2260"/>
<rect x="334.4" y="609.6" width="4.9" height="5.6" fill="#f7dc9a"/>
<rect x="345.1" y="609.6" width="5.3" height="5.6" fill="#4f2260"/>
<rect x="350.4" y="609.6" width="4.9" height="5.6" fill="#f7dc9a"/>
<rect x="361.1" y="609.6" width="5.3" height="61.6" fill="#4f2260"/>
<rect x="366.4" y="609.6" width="4.9" height="16.8" fill="#f7dc9a"/>
<rect x="55.1" y="609.1" width="209.9" height="0.9" fill="#000"/>
<rect x="277.9" y="609.1" width="128.3" height="0.9" fill="#000"/>
<rect x="55.1" y="609.1" width="1.1" height="67.7" fill="#000"/>
<text x="53.3" y="610.9" class="yt">0</text>
<text x="53.3" y="622.1" class="yt">2</text>
<text x="53.3" y="633.3" class="yt">4</text>
<text x="53.3" y="644.5" class="yt">6</text>
<text x="53.3" y="655.7" class="yt">8</text>
<text x="53.3" y="666.9" class="yt">10</text>
<text x="53.3" y="678.1" class="yt">12</text>
<text transform="translate(32.9 642.4) rotate(-90)" style="font-size:7.6px;fill:#111;stroke:#222;stroke-width:0.08px" text-anchor="middle" textLength="58.5" lengthAdjust="spacingAndGlyphs">Number of epigenetic</text>
<text transform="translate(41.7 642.7) rotate(-90)" style="font-size:7.6px;fill:#111;stroke:#222;stroke-width:0.08px" text-anchor="middle" textLength="27.4" lengthAdjust="spacingAndGlyphs">mutations</text>
<rect x="390.2" y="640.5" width="16.9" height="6.2" fill="#4f2260"/>
<rect x="390.2" y="650.7" width="16.9" height="6.3" fill="#f7dc9a"/>
<text x="410.5" y="645.8" class="lg2" textLength="60.7" lengthAdjust="spacingAndGlyphs">All epigenetic operations</text>
<text x="410.5" y="655.9" class="lg2" textLength="102.5" lengthAdjust="spacingAndGlyphs">DNA methylation or histone deacetylation</text>
<rect x="1.5" y="1.5" width="517" height="683" fill="none" stroke="#d2d2d2" stroke-width="1"/>
<rect x="0.5" y="0.5" width="519" height="685" fill="none" stroke="#000" stroke-width="1"/>
</svg>
</body></html>
